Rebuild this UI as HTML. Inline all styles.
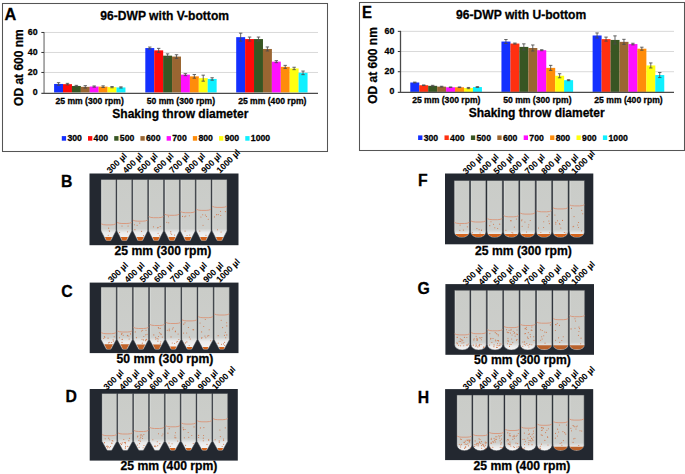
<!DOCTYPE html><html><head><meta charset="utf-8"><style>html,body{margin:0;padding:0;background:#fff;}svg{display:block;}</style></head><body><svg width="685" height="474" viewBox="0 0 685 474" font-family='"Liberation Sans", sans-serif' fill="#000"><style>text{stroke:#000;stroke-width:0.28px;}</style><rect width="685" height="474" fill="#fff"/>
<rect x="2.5" y="3.5" width="325.0" height="148.0" fill="#fff" stroke="#555" stroke-width="1.05"/>
<text transform="translate(100.3,20.2) scale(0.935,1)" font-size="12.95" font-weight="bold">96-DWP with V-bottom</text>
<line x1="44.05" y1="72.46" x2="318" y2="72.46" stroke="#d9d9d9" stroke-width="1"/>
<line x1="44.05" y1="52.46" x2="318" y2="52.46" stroke="#d9d9d9" stroke-width="1"/>
<line x1="44.05" y1="32.46" x2="318" y2="32.46" stroke="#d9d9d9" stroke-width="1"/>
<rect x="54.10" y="83.96" width="8.96" height="8.50" fill="#1430ff"/>
<rect x="63.01" y="84.16" width="8.96" height="8.30" fill="#ff0a0a"/>
<rect x="71.92" y="85.96" width="8.96" height="6.50" fill="#385623"/>
<rect x="80.84" y="86.86" width="8.96" height="5.60" fill="#9a6632"/>
<rect x="89.75" y="86.56" width="8.96" height="5.90" fill="#ff10ff"/>
<rect x="98.66" y="86.66" width="8.96" height="5.80" fill="#ff8c0a"/>
<rect x="107.57" y="87.16" width="8.96" height="5.30" fill="#ffff10"/>
<rect x="116.49" y="87.46" width="8.96" height="5.00" fill="#10f0ff"/>
<path d="M56.86 82.66H60.26M58.56 82.66V85.26M56.86 85.26H60.26" stroke="#4a4a4a" stroke-width="0.85" fill="none"/>
<path d="M65.77 83.36H69.17M67.47 83.36V84.96M65.77 84.96H69.17" stroke="#4a4a4a" stroke-width="0.85" fill="none"/>
<path d="M74.68 85.36H78.08M76.38 85.36V86.56M74.68 86.56H78.08" stroke="#4a4a4a" stroke-width="0.85" fill="none"/>
<path d="M83.59 85.66H86.99M85.29 85.66V88.06M83.59 88.06H86.99" stroke="#4a4a4a" stroke-width="0.85" fill="none"/>
<path d="M92.51 85.96H95.91M94.21 85.96V87.16M92.51 87.16H95.91" stroke="#4a4a4a" stroke-width="0.85" fill="none"/>
<path d="M101.42 85.86H104.82M103.12 85.86V87.46M101.42 87.46H104.82" stroke="#4a4a4a" stroke-width="0.85" fill="none"/>
<path d="M110.33 86.56H113.73M112.03 86.56V87.76M110.33 87.76H113.73" stroke="#4a4a4a" stroke-width="0.85" fill="none"/>
<path d="M119.24 86.86H122.64M120.94 86.86V88.06M119.24 88.06H122.64" stroke="#4a4a4a" stroke-width="0.85" fill="none"/>
<rect x="145.30" y="48.06" width="8.96" height="44.40" fill="#1430ff"/>
<rect x="154.21" y="50.36" width="8.96" height="42.10" fill="#ff0a0a"/>
<rect x="163.12" y="55.66" width="8.96" height="36.80" fill="#385623"/>
<rect x="172.04" y="56.56" width="8.96" height="35.90" fill="#9a6632"/>
<rect x="180.95" y="74.66" width="8.96" height="17.80" fill="#ff10ff"/>
<rect x="189.86" y="76.36" width="8.96" height="16.10" fill="#ff8c0a"/>
<rect x="198.78" y="78.16" width="8.96" height="14.30" fill="#ffff10"/>
<rect x="207.69" y="78.96" width="8.96" height="13.50" fill="#10f0ff"/>
<path d="M148.06 47.06H151.46M149.76 47.06V49.06M148.06 49.06H151.46" stroke="#4a4a4a" stroke-width="0.85" fill="none"/>
<path d="M156.97 48.36H160.37M158.67 48.36V52.36M156.97 52.36H160.37" stroke="#4a4a4a" stroke-width="0.85" fill="none"/>
<path d="M165.88 53.86H169.28M167.58 53.86V57.46M165.88 57.46H169.28" stroke="#4a4a4a" stroke-width="0.85" fill="none"/>
<path d="M174.79 54.76H178.19M176.49 54.76V58.36M174.79 58.36H178.19" stroke="#4a4a4a" stroke-width="0.85" fill="none"/>
<path d="M183.71 73.66H187.11M185.41 73.66V75.66M183.71 75.66H187.11" stroke="#4a4a4a" stroke-width="0.85" fill="none"/>
<path d="M192.62 74.56H196.02M194.32 74.56V78.16M192.62 78.16H196.02" stroke="#4a4a4a" stroke-width="0.85" fill="none"/>
<path d="M201.53 75.16H204.93M203.23 75.16V81.16M201.53 81.16H204.93" stroke="#4a4a4a" stroke-width="0.85" fill="none"/>
<path d="M210.44 77.76H213.84M212.14 77.76V80.16M210.44 80.16H213.84" stroke="#4a4a4a" stroke-width="0.85" fill="none"/>
<rect x="236.20" y="37.16" width="8.96" height="55.30" fill="#1430ff"/>
<rect x="245.11" y="39.06" width="8.96" height="53.40" fill="#ff0a0a"/>
<rect x="254.02" y="39.06" width="8.96" height="53.40" fill="#385623"/>
<rect x="262.94" y="48.96" width="8.96" height="43.50" fill="#9a6632"/>
<rect x="271.85" y="61.66" width="8.96" height="30.80" fill="#ff10ff"/>
<rect x="280.76" y="66.86" width="8.96" height="25.60" fill="#ff8c0a"/>
<rect x="289.67" y="68.46" width="8.96" height="24.00" fill="#ffff10"/>
<rect x="298.59" y="72.86" width="8.96" height="19.60" fill="#10f0ff"/>
<path d="M238.96 33.16H242.36M240.66 33.16V41.16M238.96 41.16H242.36" stroke="#4a4a4a" stroke-width="0.85" fill="none"/>
<path d="M247.87 37.06H251.27M249.57 37.06V41.06M247.87 41.06H251.27" stroke="#4a4a4a" stroke-width="0.85" fill="none"/>
<path d="M256.78 37.06H260.18M258.48 37.06V41.06M256.78 41.06H260.18" stroke="#4a4a4a" stroke-width="0.85" fill="none"/>
<path d="M265.69 46.96H269.09M267.39 46.96V50.96M265.69 50.96H269.09" stroke="#4a4a4a" stroke-width="0.85" fill="none"/>
<path d="M274.61 60.66H278.01M276.31 60.66V62.66M274.61 62.66H278.01" stroke="#4a4a4a" stroke-width="0.85" fill="none"/>
<path d="M283.52 65.36H286.92M285.22 65.36V68.36M283.52 68.36H286.92" stroke="#4a4a4a" stroke-width="0.85" fill="none"/>
<path d="M292.43 67.26H295.83M294.13 67.26V69.66M292.43 69.66H295.83" stroke="#4a4a4a" stroke-width="0.85" fill="none"/>
<path d="M301.34 71.06H304.74M303.04 71.06V74.66M301.34 74.66H304.74" stroke="#4a4a4a" stroke-width="0.85" fill="none"/>
<line x1="44.05" y1="31.96" x2="44.05" y2="93.4" stroke="#808080" stroke-width="1.3"/>
<line x1="41.349999999999994" y1="93.4" x2="318" y2="93.4" stroke="#4a4a4a" stroke-width="1.2"/>
<line x1="41.349999999999994" y1="72.46" x2="44.05" y2="72.46" stroke="#333" stroke-width="1"/>
<line x1="41.349999999999994" y1="52.46" x2="44.05" y2="52.46" stroke="#333" stroke-width="1"/>
<line x1="41.349999999999994" y1="32.46" x2="44.05" y2="32.46" stroke="#333" stroke-width="1"/>
<text x="37.6" y="94.96" font-size="8.8" font-weight="bold" text-anchor="end">0</text>
<text x="37.6" y="74.96" font-size="8.8" font-weight="bold" text-anchor="end">20</text>
<text x="37.6" y="54.96" font-size="8.8" font-weight="bold" text-anchor="end">40</text>
<text x="37.6" y="34.96" font-size="8.8" font-weight="bold" text-anchor="end">60</text>
<text transform="translate(22.5,67.6) rotate(-90)" font-size="12" font-weight="bold" text-anchor="middle">OD at 600 nm</text>
<text x="89.6" y="104.2" font-size="8.6" font-weight="bold" text-anchor="middle">25 mm (300 rpm)</text>
<text x="180.9" y="104.2" font-size="8.6" font-weight="bold" text-anchor="middle">50 mm (300 rpm)</text>
<text x="272.3" y="104.2" font-size="8.6" font-weight="bold" text-anchor="middle">25 mm (400 rpm)</text>
<text x="112.3" y="117.5" font-size="12" font-weight="bold">Shaking throw diameter</text>
<rect x="61.80" y="136.10" width="4.3" height="4.6" fill="#1430ff"/>
<text x="67.40" y="141.30" font-size="8.7" font-weight="bold">300</text>
<rect x="88.01" y="136.10" width="4.3" height="4.6" fill="#ff0a0a"/>
<text x="93.61" y="141.30" font-size="8.7" font-weight="bold">400</text>
<rect x="114.22" y="136.10" width="4.3" height="4.6" fill="#385623"/>
<text x="119.82" y="141.30" font-size="8.7" font-weight="bold">500</text>
<rect x="140.43" y="136.10" width="4.3" height="4.6" fill="#9a6632"/>
<text x="146.03" y="141.30" font-size="8.7" font-weight="bold">600</text>
<rect x="166.64" y="136.10" width="4.3" height="4.6" fill="#ff10ff"/>
<text x="172.24" y="141.30" font-size="8.7" font-weight="bold">700</text>
<rect x="192.85" y="136.10" width="4.3" height="4.6" fill="#ff8c0a"/>
<text x="198.45" y="141.30" font-size="8.7" font-weight="bold">800</text>
<rect x="219.06" y="136.10" width="4.3" height="4.6" fill="#ffff10"/>
<text x="224.66" y="141.30" font-size="8.7" font-weight="bold">900</text>
<rect x="245.27" y="136.10" width="4.3" height="4.6" fill="#10f0ff"/>
<text x="250.87" y="141.30" font-size="8.7" font-weight="bold">1000</text>
<rect x="359.5" y="2.5" width="325.0" height="148.0" fill="#fff" stroke="#555" stroke-width="1.05"/>
<text transform="translate(456.1,18.7) scale(0.935,1)" font-size="12.95" font-weight="bold">96-DWP with U-bottom</text>
<line x1="400.5" y1="71.72" x2="674" y2="71.72" stroke="#d9d9d9" stroke-width="1"/>
<line x1="400.5" y1="51.53" x2="674" y2="51.53" stroke="#d9d9d9" stroke-width="1"/>
<line x1="400.5" y1="31.35" x2="674" y2="31.35" stroke="#d9d9d9" stroke-width="1"/>
<rect x="410.28" y="82.51" width="9.00" height="9.39" fill="#1430ff"/>
<rect x="419.23" y="85.24" width="9.00" height="6.66" fill="#ff3010"/>
<rect x="428.18" y="85.84" width="9.00" height="6.06" fill="#385623"/>
<rect x="437.13" y="86.65" width="9.00" height="5.25" fill="#9a6632"/>
<rect x="446.08" y="87.26" width="9.00" height="4.64" fill="#ff10ff"/>
<rect x="455.03" y="87.26" width="9.00" height="4.64" fill="#ff8c0a"/>
<rect x="463.98" y="88.07" width="9.00" height="3.83" fill="#ffff10"/>
<rect x="472.93" y="87.06" width="9.00" height="4.84" fill="#10f0ff"/>
<path d="M413.06 82.11H416.46M414.76 82.11V82.92M413.06 82.92H416.46" stroke="#4a4a4a" stroke-width="0.85" fill="none"/>
<path d="M422.01 84.94H425.41M423.71 84.94V85.54M422.01 85.54H425.41" stroke="#4a4a4a" stroke-width="0.85" fill="none"/>
<path d="M430.96 85.34H434.36M432.66 85.34V86.35M430.96 86.35H434.36" stroke="#4a4a4a" stroke-width="0.85" fill="none"/>
<path d="M439.91 86.25H443.31M441.61 86.25V87.06M439.91 87.06H443.31" stroke="#4a4a4a" stroke-width="0.85" fill="none"/>
<path d="M448.86 86.96H452.26M450.56 86.96V87.56M448.86 87.56H452.26" stroke="#4a4a4a" stroke-width="0.85" fill="none"/>
<path d="M457.81 86.96H461.21M459.51 86.96V87.56M457.81 87.56H461.21" stroke="#4a4a4a" stroke-width="0.85" fill="none"/>
<path d="M466.76 87.46H470.16M468.46 87.46V88.67M466.76 88.67H470.16" stroke="#4a4a4a" stroke-width="0.85" fill="none"/>
<path d="M475.71 86.65H479.11M477.41 86.65V87.46M475.71 87.46H479.11" stroke="#4a4a4a" stroke-width="0.85" fill="none"/>
<rect x="501.45" y="41.54" width="9.00" height="50.36" fill="#1430ff"/>
<rect x="510.40" y="43.56" width="9.00" height="48.34" fill="#ff3010"/>
<rect x="519.35" y="46.89" width="9.00" height="45.01" fill="#385623"/>
<rect x="528.30" y="48.00" width="9.00" height="43.90" fill="#9a6632"/>
<rect x="537.25" y="50.22" width="9.00" height="41.68" fill="#ff10ff"/>
<rect x="546.20" y="67.88" width="9.00" height="24.02" fill="#ff8c0a"/>
<rect x="555.15" y="75.75" width="9.00" height="16.15" fill="#ffff10"/>
<rect x="564.10" y="80.19" width="9.00" height="11.71" fill="#10f0ff"/>
<path d="M504.23 39.52H507.63M505.93 39.52V43.56M504.23 43.56H507.63" stroke="#4a4a4a" stroke-width="0.85" fill="none"/>
<path d="M513.17 43.06H516.58M514.88 43.06V44.07M513.17 44.07H516.58" stroke="#4a4a4a" stroke-width="0.85" fill="none"/>
<path d="M522.12 43.86H525.53M523.83 43.86V49.92M522.12 49.92H525.53" stroke="#4a4a4a" stroke-width="0.85" fill="none"/>
<path d="M531.08 44.97H534.48M532.78 44.97V51.03M531.08 51.03H534.48" stroke="#4a4a4a" stroke-width="0.85" fill="none"/>
<path d="M540.02 49.72H543.43M541.73 49.72V50.73M540.02 50.73H543.43" stroke="#4a4a4a" stroke-width="0.85" fill="none"/>
<path d="M548.98 65.36H552.38M550.68 65.36V70.40M548.98 70.40H552.38" stroke="#4a4a4a" stroke-width="0.85" fill="none"/>
<path d="M557.93 73.73H561.33M559.63 73.73V77.77M557.93 77.77H561.33" stroke="#4a4a4a" stroke-width="0.85" fill="none"/>
<path d="M566.88 79.69H570.28M568.58 79.69V80.70M566.88 80.70H570.28" stroke="#4a4a4a" stroke-width="0.85" fill="none"/>
<rect x="592.62" y="35.49" width="9.00" height="56.41" fill="#1430ff"/>
<rect x="601.57" y="39.12" width="9.00" height="52.78" fill="#ff3010"/>
<rect x="610.52" y="39.93" width="9.00" height="51.97" fill="#385623"/>
<rect x="619.47" y="41.85" width="9.00" height="50.05" fill="#9a6632"/>
<rect x="628.42" y="44.07" width="9.00" height="47.83" fill="#ff10ff"/>
<rect x="637.37" y="48.71" width="9.00" height="43.19" fill="#ff8c0a"/>
<rect x="646.32" y="65.46" width="9.00" height="26.44" fill="#ffff10"/>
<rect x="655.27" y="75.05" width="9.00" height="16.85" fill="#10f0ff"/>
<path d="M595.39 32.96H598.79M597.09 32.96V38.01M595.39 38.01H598.79" stroke="#4a4a4a" stroke-width="0.85" fill="none"/>
<path d="M604.34 37.10H607.74M606.04 37.10V41.14M604.34 41.14H607.74" stroke="#4a4a4a" stroke-width="0.85" fill="none"/>
<path d="M613.29 35.89H616.69M614.99 35.89V43.96M613.29 43.96H616.69" stroke="#4a4a4a" stroke-width="0.85" fill="none"/>
<path d="M622.24 39.32H625.64M623.94 39.32V44.37M622.24 44.37H625.64" stroke="#4a4a4a" stroke-width="0.85" fill="none"/>
<path d="M631.19 43.26H634.59M632.89 43.26V44.87M631.19 44.87H634.59" stroke="#4a4a4a" stroke-width="0.85" fill="none"/>
<path d="M640.14 47.19H643.54M641.84 47.19V50.22M640.14 50.22H643.54" stroke="#4a4a4a" stroke-width="0.85" fill="none"/>
<path d="M649.09 62.94H652.49M650.79 62.94V67.98M649.09 67.98H652.49" stroke="#4a4a4a" stroke-width="0.85" fill="none"/>
<path d="M658.04 72.52H661.44M659.74 72.52V77.57M658.04 77.57H661.44" stroke="#4a4a4a" stroke-width="0.85" fill="none"/>
<line x1="400.5" y1="30.85" x2="400.5" y2="92.35" stroke="#4a4a4a" stroke-width="1.3"/>
<line x1="397.8" y1="92.35" x2="674" y2="92.35" stroke="#4a4a4a" stroke-width="1.2"/>
<line x1="397.8" y1="71.72" x2="400.5" y2="71.72" stroke="#333" stroke-width="1"/>
<line x1="397.8" y1="51.53" x2="400.5" y2="51.53" stroke="#333" stroke-width="1"/>
<line x1="397.8" y1="31.35" x2="400.5" y2="31.35" stroke="#333" stroke-width="1"/>
<text x="394.3" y="94.40" font-size="8.8" font-weight="bold" text-anchor="end">0</text>
<text x="394.3" y="74.22" font-size="8.8" font-weight="bold" text-anchor="end">20</text>
<text x="394.3" y="54.03" font-size="8.8" font-weight="bold" text-anchor="end">40</text>
<text x="394.3" y="33.85" font-size="8.8" font-weight="bold" text-anchor="end">60</text>
<text transform="translate(376.8,65.5) rotate(-90)" font-size="12" font-weight="bold" text-anchor="middle">OD at 600 nm</text>
<text x="446.3" y="103.0" font-size="8.6" font-weight="bold" text-anchor="middle">25 mm (300 rpm)</text>
<text x="537.4" y="103.0" font-size="8.6" font-weight="bold" text-anchor="middle">50 mm (300 rpm)</text>
<text x="628.5" y="103.0" font-size="8.6" font-weight="bold" text-anchor="middle">25 mm (400 rpm)</text>
<text x="468.7" y="116.8" font-size="12" font-weight="bold">Shaking throw diameter</text>
<rect x="418.10" y="135.40" width="4.3" height="4.6" fill="#1430ff"/>
<text x="423.70" y="140.60" font-size="8.7" font-weight="bold">300</text>
<rect x="444.50" y="135.40" width="4.3" height="4.6" fill="#ff3010"/>
<text x="450.10" y="140.60" font-size="8.7" font-weight="bold">400</text>
<rect x="470.90" y="135.40" width="4.3" height="4.6" fill="#385623"/>
<text x="476.50" y="140.60" font-size="8.7" font-weight="bold">500</text>
<rect x="497.30" y="135.40" width="4.3" height="4.6" fill="#9a6632"/>
<text x="502.90" y="140.60" font-size="8.7" font-weight="bold">600</text>
<rect x="523.70" y="135.40" width="4.3" height="4.6" fill="#ff10ff"/>
<text x="529.30" y="140.60" font-size="8.7" font-weight="bold">700</text>
<rect x="550.10" y="135.40" width="4.3" height="4.6" fill="#ff8c0a"/>
<text x="555.70" y="140.60" font-size="8.7" font-weight="bold">800</text>
<rect x="576.50" y="135.40" width="4.3" height="4.6" fill="#ffff10"/>
<text x="582.10" y="140.60" font-size="8.7" font-weight="bold">900</text>
<rect x="602.90" y="135.40" width="4.3" height="4.6" fill="#10f0ff"/>
<text x="608.50" y="140.60" font-size="8.7" font-weight="bold">1000</text>
<rect x="89.5" y="173.5" width="149.0" height="71.69999999999999" fill="#232830"/>
<text x="163" y="255.3" font-size="12.2" font-weight="bold" text-anchor="middle">25 mm (300 rpm)</text>
<linearGradient id="g0" x1="0" y1="179.5" x2="0" y2="240.8" gradientUnits="userSpaceOnUse"><stop offset="0" stop-color="#caccc8"/><stop offset="0.799" stop-color="#cccecb"/><stop offset="0.865" stop-color="#eaeaea"/><stop offset="1" stop-color="#f8f8f8"/></linearGradient>
<path d="M101.00 179.5H116.00V231L111.40 239.9Q110.90 240.8 109.90 240.8H107.10Q106.10 240.8 105.60 239.9L101.00 231Z" fill="url(#g0)" stroke="#3a3e44" stroke-width="0.5"/>
<line x1="102.00" y1="180.1" x2="102.00" y2="230.00" stroke="#d6d8d6" stroke-width="0.8"/>
<path d="M104.97 236.90H112.03L110.60 240.20000000000002Q110.30 240.60000000000002 109.70 240.60000000000002H107.30Q106.70 240.60000000000002 106.40 240.20000000000002Z" fill="#d2641e"/>
<path d="M101.20 223.80Q103.00 224.90 106.00 224.90H111.00Q114.00 224.90 115.80 223.80" stroke="#d89a80" stroke-width="1.0" fill="none"/>
<circle cx="109.22" cy="230.70" r="0.55" fill="#cf7a50"/>
<circle cx="108.24" cy="235.18" r="0.55" fill="#cf7a50"/>
<circle cx="109.53" cy="231.22" r="0.55" fill="#cf7a50"/>
<circle cx="108.64" cy="228.15" r="0.55" fill="#cf7a50"/>
<text transform="translate(110.20,173.70) rotate(-45)" font-size="8.7" font-weight="bold" style="stroke-width:0.05px">300 µl</text>
<linearGradient id="g1" x1="0" y1="179.5" x2="0" y2="240.8" gradientUnits="userSpaceOnUse"><stop offset="0" stop-color="#caccc8"/><stop offset="0.799" stop-color="#cccecb"/><stop offset="0.865" stop-color="#eaeaea"/><stop offset="1" stop-color="#f8f8f8"/></linearGradient>
<path d="M116.86 179.5H131.86V231L127.26 239.9Q126.76 240.8 125.76 240.8H122.96Q121.96 240.8 121.46 239.9L116.86 231Z" fill="url(#g1)" stroke="#3a3e44" stroke-width="0.5"/>
<line x1="117.86" y1="180.1" x2="117.86" y2="230.00" stroke="#d6d8d6" stroke-width="0.8"/>
<path d="M120.83 236.90H127.89L126.46 240.20000000000002Q126.16 240.60000000000002 125.56 240.60000000000002H123.16Q122.56 240.60000000000002 122.26 240.20000000000002Z" fill="#d2641e"/>
<path d="M117.06 222.40Q118.86 223.50 121.86 223.50H126.86Q129.86 223.50 131.66 222.40" stroke="#d89a80" stroke-width="1.0" fill="none"/>
<circle cx="127.61" cy="231.87" r="0.55" fill="#cf7a50"/>
<circle cx="122.00" cy="226.03" r="0.55" fill="#cf7a50"/>
<circle cx="128.08" cy="225.99" r="0.55" fill="#cf7a50"/>
<circle cx="119.61" cy="232.56" r="0.55" fill="#cf7a50"/>
<text transform="translate(126.30,173.70) rotate(-45)" font-size="8.7" font-weight="bold" style="stroke-width:0.05px">400 µl</text>
<linearGradient id="g2" x1="0" y1="179.5" x2="0" y2="240.8" gradientUnits="userSpaceOnUse"><stop offset="0" stop-color="#caccc8"/><stop offset="0.799" stop-color="#cccecb"/><stop offset="0.865" stop-color="#eaeaea"/><stop offset="1" stop-color="#f8f8f8"/></linearGradient>
<path d="M132.72 179.5H147.72V231L143.12 239.9Q142.62 240.8 141.62 240.8H138.82Q137.82 240.8 137.32 239.9L132.72 231Z" fill="url(#g2)" stroke="#3a3e44" stroke-width="0.5"/>
<line x1="133.72" y1="180.1" x2="133.72" y2="230.00" stroke="#d6d8d6" stroke-width="0.8"/>
<path d="M136.69 236.90H143.75L142.32 240.20000000000002Q142.02 240.60000000000002 141.42 240.60000000000002H139.02Q138.42 240.60000000000002 138.12 240.20000000000002Z" fill="#d2641e"/>
<path d="M132.92 220.10Q134.72 221.20 137.72 221.20H142.72Q145.72 221.20 147.52 220.10" stroke="#d89a80" stroke-width="1.0" fill="none"/>
<circle cx="143.54" cy="235.66" r="0.55" fill="#cf7a50"/>
<circle cx="141.57" cy="231.33" r="0.55" fill="#cf7a50"/>
<circle cx="134.40" cy="224.78" r="0.55" fill="#cf7a50"/>
<circle cx="134.93" cy="229.67" r="0.55" fill="#cf7a50"/>
<circle cx="137.12" cy="225.21" r="0.55" fill="#cf7a50"/>
<circle cx="139.79" cy="223.10" r="0.55" fill="#cf7a50"/>
<text transform="translate(141.10,173.70) rotate(-45)" font-size="8.7" font-weight="bold" style="stroke-width:0.05px">500 µl</text>
<linearGradient id="g3" x1="0" y1="179.5" x2="0" y2="240.8" gradientUnits="userSpaceOnUse"><stop offset="0" stop-color="#caccc8"/><stop offset="0.799" stop-color="#cccecb"/><stop offset="0.865" stop-color="#eaeaea"/><stop offset="1" stop-color="#f8f8f8"/></linearGradient>
<path d="M148.58 179.5H163.58V231L158.98 239.9Q158.48 240.8 157.48 240.8H154.68Q153.68 240.8 153.18 239.9L148.58 231Z" fill="url(#g3)" stroke="#3a3e44" stroke-width="0.5"/>
<line x1="149.58" y1="180.1" x2="149.58" y2="230.00" stroke="#d6d8d6" stroke-width="0.8"/>
<path d="M152.55 236.90H159.61L158.18 240.20000000000002Q157.88 240.60000000000002 157.28 240.60000000000002H154.88Q154.28 240.60000000000002 153.98 240.20000000000002Z" fill="#d2641e"/>
<path d="M148.78 216.60Q150.58 217.70 153.58 217.70H158.58Q161.58 217.70 163.38 216.60" stroke="#d89a80" stroke-width="1.0" fill="none"/>
<circle cx="160.19" cy="226.56" r="0.55" fill="#cf7a50"/>
<circle cx="157.76" cy="227.87" r="0.55" fill="#cf7a50"/>
<circle cx="158.03" cy="227.55" r="0.55" fill="#cf7a50"/>
<circle cx="153.42" cy="226.84" r="0.55" fill="#cf7a50"/>
<circle cx="159.52" cy="235.86" r="0.55" fill="#cf7a50"/>
<circle cx="158.09" cy="233.23" r="0.55" fill="#cf7a50"/>
<text transform="translate(156.90,173.70) rotate(-45)" font-size="8.7" font-weight="bold" style="stroke-width:0.05px">600 µl</text>
<linearGradient id="g4" x1="0" y1="179.5" x2="0" y2="240.8" gradientUnits="userSpaceOnUse"><stop offset="0" stop-color="#caccc8"/><stop offset="0.799" stop-color="#cccecb"/><stop offset="0.865" stop-color="#eaeaea"/><stop offset="1" stop-color="#f8f8f8"/></linearGradient>
<path d="M164.44 179.5H179.44V231L174.84 239.9Q174.34 240.8 173.34 240.8H170.54Q169.54 240.8 169.04 239.9L164.44 231Z" fill="url(#g4)" stroke="#3a3e44" stroke-width="0.5"/>
<line x1="165.44" y1="180.1" x2="165.44" y2="230.00" stroke="#d6d8d6" stroke-width="0.8"/>
<path d="M168.41 236.90H175.47L174.04 240.20000000000002Q173.74 240.60000000000002 173.14 240.60000000000002H170.74Q170.14 240.60000000000002 169.84 240.20000000000002Z" fill="#d2641e"/>
<path d="M164.64 214.20Q166.44 215.30 169.44 215.30H174.44Q177.44 215.30 179.24 214.20" stroke="#d89a80" stroke-width="1.0" fill="none"/>
<circle cx="168.70" cy="222.82" r="0.55" fill="#cf7a50"/>
<circle cx="166.78" cy="222.32" r="0.55" fill="#cf7a50"/>
<circle cx="170.79" cy="231.44" r="0.55" fill="#cf7a50"/>
<circle cx="170.81" cy="232.97" r="0.55" fill="#cf7a50"/>
<circle cx="174.63" cy="235.10" r="0.55" fill="#cf7a50"/>
<circle cx="168.46" cy="216.81" r="0.55" fill="#cf7a50"/>
<circle cx="171.68" cy="234.19" r="0.55" fill="#cf7a50"/>
<text transform="translate(172.80,173.70) rotate(-45)" font-size="8.7" font-weight="bold" style="stroke-width:0.05px">700 µl</text>
<linearGradient id="g5" x1="0" y1="179.5" x2="0" y2="240.8" gradientUnits="userSpaceOnUse"><stop offset="0" stop-color="#caccc8"/><stop offset="0.799" stop-color="#cccecb"/><stop offset="0.865" stop-color="#eaeaea"/><stop offset="1" stop-color="#f8f8f8"/></linearGradient>
<path d="M180.30 179.5H195.30V231L190.70 239.9Q190.20 240.8 189.20 240.8H186.40Q185.40 240.8 184.90 239.9L180.30 231Z" fill="url(#g5)" stroke="#3a3e44" stroke-width="0.5"/>
<line x1="181.30" y1="180.1" x2="181.30" y2="230.00" stroke="#d6d8d6" stroke-width="0.8"/>
<path d="M184.27 236.90H191.33L189.90 240.20000000000002Q189.60 240.60000000000002 189.00 240.60000000000002H186.60Q186.00 240.60000000000002 185.70 240.20000000000002Z" fill="#d2641e"/>
<path d="M180.50 211.60Q182.30 212.70 185.30 212.70H190.30Q193.30 212.70 195.10 211.60" stroke="#d89a80" stroke-width="1.0" fill="none"/>
<circle cx="187.05" cy="235.47" r="0.55" fill="#cf7a50"/>
<circle cx="189.35" cy="215.78" r="0.55" fill="#cf7a50"/>
<circle cx="185.06" cy="231.09" r="0.55" fill="#cf7a50"/>
<circle cx="185.79" cy="216.09" r="0.55" fill="#cf7a50"/>
<circle cx="189.79" cy="235.12" r="0.55" fill="#cf7a50"/>
<circle cx="184.76" cy="216.76" r="0.55" fill="#cf7a50"/>
<circle cx="182.52" cy="216.39" r="0.55" fill="#cf7a50"/>
<text transform="translate(188.60,173.70) rotate(-45)" font-size="8.7" font-weight="bold" style="stroke-width:0.05px">800 µl</text>
<linearGradient id="g6" x1="0" y1="179.5" x2="0" y2="240.8" gradientUnits="userSpaceOnUse"><stop offset="0" stop-color="#caccc8"/><stop offset="0.799" stop-color="#cccecb"/><stop offset="0.865" stop-color="#eaeaea"/><stop offset="1" stop-color="#f8f8f8"/></linearGradient>
<path d="M196.16 179.5H211.16V231L206.56 239.9Q206.06 240.8 205.06 240.8H202.26Q201.26 240.8 200.76 239.9L196.16 231Z" fill="url(#g6)" stroke="#3a3e44" stroke-width="0.5"/>
<line x1="197.16" y1="180.1" x2="197.16" y2="230.00" stroke="#d6d8d6" stroke-width="0.8"/>
<path d="M200.13 236.90H207.19L205.76 240.20000000000002Q205.46 240.60000000000002 204.86 240.60000000000002H202.46Q201.86 240.60000000000002 201.56 240.20000000000002Z" fill="#d2641e"/>
<path d="M196.36 209.30Q198.16 210.40 201.16 210.40H206.16Q209.16 210.40 210.96 209.30" stroke="#d89a80" stroke-width="1.0" fill="none"/>
<circle cx="199.80" cy="231.03" r="0.55" fill="#cf7a50"/>
<circle cx="203.03" cy="225.32" r="0.55" fill="#cf7a50"/>
<circle cx="206.44" cy="216.48" r="0.55" fill="#cf7a50"/>
<circle cx="205.38" cy="215.04" r="0.55" fill="#cf7a50"/>
<circle cx="202.71" cy="214.70" r="0.55" fill="#cf7a50"/>
<circle cx="200.90" cy="217.01" r="0.55" fill="#cf7a50"/>
<circle cx="205.97" cy="235.20" r="0.55" fill="#cf7a50"/>
<circle cx="208.28" cy="219.20" r="0.55" fill="#cf7a50"/>
<text transform="translate(204.80,173.70) rotate(-45)" font-size="8.7" font-weight="bold" style="stroke-width:0.05px">900 µl</text>
<linearGradient id="g7" x1="0" y1="179.5" x2="0" y2="240.8" gradientUnits="userSpaceOnUse"><stop offset="0" stop-color="#caccc8"/><stop offset="0.799" stop-color="#cccecb"/><stop offset="0.865" stop-color="#eaeaea"/><stop offset="1" stop-color="#f8f8f8"/></linearGradient>
<path d="M212.02 179.5H227.02V231L222.42 239.9Q221.92 240.8 220.92 240.8H218.12Q217.12 240.8 216.62 239.9L212.02 231Z" fill="url(#g7)" stroke="#3a3e44" stroke-width="0.5"/>
<line x1="213.02" y1="180.1" x2="213.02" y2="230.00" stroke="#d6d8d6" stroke-width="0.8"/>
<path d="M215.99 236.90H223.05L221.62 240.20000000000002Q221.32 240.60000000000002 220.72 240.60000000000002H218.32Q217.72 240.60000000000002 217.42 240.20000000000002Z" fill="#d2641e"/>
<path d="M212.22 206.30Q214.02 207.40 217.02 207.40H222.02Q225.02 207.40 226.82 206.30" stroke="#d89a80" stroke-width="1.0" fill="none"/>
<circle cx="218.25" cy="214.59" r="0.55" fill="#cf7a50"/>
<circle cx="221.08" cy="231.97" r="0.55" fill="#cf7a50"/>
<circle cx="225.39" cy="211.61" r="0.55" fill="#cf7a50"/>
<circle cx="216.62" cy="214.66" r="0.55" fill="#cf7a50"/>
<circle cx="217.47" cy="229.76" r="0.55" fill="#cf7a50"/>
<circle cx="214.40" cy="216.90" r="0.55" fill="#cf7a50"/>
<circle cx="220.51" cy="211.33" r="0.55" fill="#cf7a50"/>
<circle cx="220.74" cy="215.46" r="0.55" fill="#cf7a50"/>
<text transform="translate(220.10,173.70) rotate(-45)" font-size="8.7" font-weight="bold" style="stroke-width:0.05px">1000 µl</text>
<rect x="89.7" y="282.6" width="148.8" height="70.5" fill="#232830"/>
<text x="165" y="362.5" font-size="12.2" font-weight="bold" text-anchor="middle">50 mm (300 rpm)</text>
<linearGradient id="g8" x1="0" y1="287.1" x2="0" y2="349.4" gradientUnits="userSpaceOnUse"><stop offset="0" stop-color="#caccc8"/><stop offset="0.804" stop-color="#cccecb"/><stop offset="0.868" stop-color="#eaeaea"/><stop offset="1" stop-color="#f8f8f8"/></linearGradient>
<path d="M101.00 287.1H116.30V339.7L111.55 348.5Q111.05 349.4 110.05 349.4H107.25Q106.25 349.4 105.75 348.5L101.00 339.7Z" fill="url(#g8)" stroke="#3a3e44" stroke-width="0.5"/>
<line x1="102.00" y1="287.70000000000005" x2="102.00" y2="338.70" stroke="#d6d8d6" stroke-width="0.8"/>
<path d="M104.34 344.20H112.96L110.75 348.79999999999995Q110.45 349.2 109.85 349.2H107.45Q106.85 349.2 106.55 348.79999999999995Z" fill="#c2642a"/>
<path d="M101.20 332.60Q103.00 333.70 106.00 333.70H111.30Q114.30 333.70 116.10 332.60" stroke="#d89a80" stroke-width="1.0" fill="none"/>
<circle cx="108.07" cy="338.17" r="0.55" fill="#cf7a50"/>
<circle cx="108.51" cy="342.87" r="0.55" fill="#cf7a50"/>
<circle cx="113.12" cy="339.80" r="0.55" fill="#cf7a50"/>
<circle cx="104.40" cy="336.66" r="0.55" fill="#cf7a50"/>
<circle cx="111.61" cy="342.47" r="0.55" fill="#cf7a50"/>
<circle cx="104.83" cy="337.20" r="0.55" fill="#cf7a50"/>
<circle cx="113.39" cy="341.12" r="0.55" fill="#cf7a50"/>
<circle cx="114.19" cy="336.77" r="0.55" fill="#cf7a50"/>
<circle cx="109.64" cy="342.26" r="0.55" fill="#cf7a50"/>
<circle cx="103.78" cy="338.57" r="0.55" fill="#cf7a50"/>
<text transform="translate(111.40,283.00) rotate(-45)" font-size="8.7" font-weight="bold" style="stroke-width:0.05px">300 µl</text>
<linearGradient id="g9" x1="0" y1="287.1" x2="0" y2="349.4" gradientUnits="userSpaceOnUse"><stop offset="0" stop-color="#caccc8"/><stop offset="0.804" stop-color="#cccecb"/><stop offset="0.868" stop-color="#eaeaea"/><stop offset="1" stop-color="#f8f8f8"/></linearGradient>
<path d="M117.16 287.1H132.46V339.7L127.71 348.5Q127.21 349.4 126.21 349.4H123.41Q122.41 349.4 121.91 348.5L117.16 339.7Z" fill="url(#g9)" stroke="#3a3e44" stroke-width="0.5"/>
<line x1="118.16" y1="287.70000000000005" x2="118.16" y2="338.70" stroke="#d6d8d6" stroke-width="0.8"/>
<path d="M120.50 344.20H129.12L126.91 348.79999999999995Q126.61 349.2 126.01 349.2H123.61Q123.01 349.2 122.71 348.79999999999995Z" fill="#c2642a"/>
<path d="M117.36 330.90Q119.16 332.00 122.16 332.00H127.46Q130.46 332.00 132.26 330.90" stroke="#d89a80" stroke-width="1.0" fill="none"/>
<circle cx="130.50" cy="333.88" r="0.55" fill="#cf7a50"/>
<circle cx="127.33" cy="335.81" r="0.55" fill="#cf7a50"/>
<circle cx="128.79" cy="335.99" r="0.55" fill="#cf7a50"/>
<circle cx="122.27" cy="339.29" r="0.55" fill="#cf7a50"/>
<circle cx="127.52" cy="335.20" r="0.55" fill="#cf7a50"/>
<circle cx="121.47" cy="334.17" r="0.55" fill="#cf7a50"/>
<circle cx="129.14" cy="338.93" r="0.55" fill="#cf7a50"/>
<circle cx="122.11" cy="339.46" r="0.55" fill="#cf7a50"/>
<circle cx="122.03" cy="342.40" r="0.55" fill="#cf7a50"/>
<circle cx="121.97" cy="333.66" r="0.55" fill="#cf7a50"/>
<circle cx="119.40" cy="337.82" r="0.55" fill="#cf7a50"/>
<circle cx="123.20" cy="335.21" r="0.55" fill="#cf7a50"/>
<text transform="translate(127.90,283.00) rotate(-45)" font-size="8.7" font-weight="bold" style="stroke-width:0.05px">400 µl</text>
<linearGradient id="g10" x1="0" y1="287.1" x2="0" y2="349.4" gradientUnits="userSpaceOnUse"><stop offset="0" stop-color="#caccc8"/><stop offset="0.804" stop-color="#cccecb"/><stop offset="0.868" stop-color="#eaeaea"/><stop offset="1" stop-color="#f8f8f8"/></linearGradient>
<path d="M133.32 287.1H148.62V339.7L143.87 348.5Q143.37 349.4 142.37 349.4H139.57Q138.57 349.4 138.07 348.5L133.32 339.7Z" fill="url(#g10)" stroke="#3a3e44" stroke-width="0.5"/>
<line x1="134.32" y1="287.70000000000005" x2="134.32" y2="338.70" stroke="#d6d8d6" stroke-width="0.8"/>
<path d="M136.76 344.40H145.18L143.07 348.79999999999995Q142.77 349.2 142.17 349.2H139.77Q139.17 349.2 138.87 348.79999999999995Z" fill="#c2642a"/>
<path d="M133.52 327.40Q135.32 328.50 138.32 328.50H143.62Q146.62 328.50 148.42 327.40" stroke="#d89a80" stroke-width="1.0" fill="none"/>
<circle cx="136.44" cy="337.67" r="0.55" fill="#cf7a50"/>
<circle cx="145.78" cy="334.85" r="0.55" fill="#cf7a50"/>
<circle cx="142.32" cy="343.14" r="0.55" fill="#cf7a50"/>
<circle cx="142.01" cy="339.26" r="0.55" fill="#cf7a50"/>
<circle cx="135.25" cy="331.88" r="0.55" fill="#cf7a50"/>
<circle cx="146.02" cy="330.24" r="0.55" fill="#cf7a50"/>
<circle cx="146.66" cy="339.39" r="0.55" fill="#cf7a50"/>
<circle cx="142.65" cy="330.28" r="0.55" fill="#cf7a50"/>
<circle cx="143.81" cy="336.46" r="0.55" fill="#cf7a50"/>
<circle cx="147.11" cy="334.27" r="0.55" fill="#cf7a50"/>
<circle cx="141.54" cy="331.01" r="0.55" fill="#cf7a50"/>
<circle cx="145.82" cy="339.88" r="0.55" fill="#cf7a50"/>
<circle cx="143.44" cy="339.88" r="0.55" fill="#cf7a50"/>
<circle cx="145.66" cy="340.63" r="0.55" fill="#cf7a50"/>
<text transform="translate(143.20,283.00) rotate(-45)" font-size="8.7" font-weight="bold" style="stroke-width:0.05px">500 µl</text>
<linearGradient id="g11" x1="0" y1="287.1" x2="0" y2="349.4" gradientUnits="userSpaceOnUse"><stop offset="0" stop-color="#caccc8"/><stop offset="0.804" stop-color="#cccecb"/><stop offset="0.868" stop-color="#eaeaea"/><stop offset="1" stop-color="#f8f8f8"/></linearGradient>
<path d="M149.48 287.1H164.78V339.7L160.03 348.5Q159.53 349.4 158.53 349.4H155.73Q154.73 349.4 154.23 348.5L149.48 339.7Z" fill="url(#g11)" stroke="#3a3e44" stroke-width="0.5"/>
<line x1="150.48" y1="287.70000000000005" x2="150.48" y2="338.70" stroke="#d6d8d6" stroke-width="0.8"/>
<path d="M152.92 344.40H161.34L159.23 348.79999999999995Q158.93 349.2 158.33 349.2H155.93Q155.33 349.2 155.03 348.79999999999995Z" fill="#c2642a"/>
<path d="M149.68 324.40Q151.48 325.50 154.48 325.50H159.78Q162.78 325.50 164.58 324.40" stroke="#d89a80" stroke-width="1.0" fill="none"/>
<circle cx="159.41" cy="332.77" r="0.55" fill="#cf7a50"/>
<circle cx="160.86" cy="341.77" r="0.55" fill="#cf7a50"/>
<circle cx="160.70" cy="333.84" r="0.55" fill="#cf7a50"/>
<circle cx="157.91" cy="341.16" r="0.55" fill="#cf7a50"/>
<circle cx="155.68" cy="337.25" r="0.55" fill="#cf7a50"/>
<circle cx="158.47" cy="336.56" r="0.55" fill="#cf7a50"/>
<circle cx="158.84" cy="328.32" r="0.55" fill="#cf7a50"/>
<circle cx="160.33" cy="343.29" r="0.55" fill="#cf7a50"/>
<circle cx="155.76" cy="338.94" r="0.55" fill="#cf7a50"/>
<circle cx="158.13" cy="339.05" r="0.55" fill="#cf7a50"/>
<circle cx="161.29" cy="334.22" r="0.55" fill="#cf7a50"/>
<circle cx="160.21" cy="328.37" r="0.55" fill="#cf7a50"/>
<circle cx="158.38" cy="327.49" r="0.55" fill="#cf7a50"/>
<circle cx="153.81" cy="334.89" r="0.55" fill="#cf7a50"/>
<circle cx="157.10" cy="338.45" r="0.55" fill="#cf7a50"/>
<circle cx="162.30" cy="337.08" r="0.55" fill="#cf7a50"/>
<text transform="translate(157.40,283.00) rotate(-45)" font-size="8.7" font-weight="bold" style="stroke-width:0.05px">600 µl</text>
<linearGradient id="g12" x1="0" y1="287.1" x2="0" y2="349.4" gradientUnits="userSpaceOnUse"><stop offset="0" stop-color="#caccc8"/><stop offset="0.804" stop-color="#cccecb"/><stop offset="0.868" stop-color="#eaeaea"/><stop offset="1" stop-color="#f8f8f8"/></linearGradient>
<path d="M165.64 287.1H180.94V339.7L176.19 348.5Q175.69 349.4 174.69 349.4H171.89Q170.89 349.4 170.39 348.5L165.64 339.7Z" fill="url(#g12)" stroke="#3a3e44" stroke-width="0.5"/>
<line x1="166.64" y1="287.70000000000005" x2="166.64" y2="338.70" stroke="#d6d8d6" stroke-width="0.8"/>
<path d="M170.17 346.40H176.41L175.39 348.79999999999995Q175.09 349.2 174.49 349.2H172.09Q171.49 349.2 171.19 348.79999999999995Z" fill="#d2641e"/>
<path d="M165.84 322.40Q167.64 323.50 170.64 323.50H175.94Q178.94 323.50 180.74 322.40" stroke="#d89a80" stroke-width="1.0" fill="none"/>
<circle cx="167.28" cy="330.22" r="0.55" fill="#cf7a50"/>
<circle cx="175.48" cy="331.14" r="0.55" fill="#cf7a50"/>
<circle cx="169.23" cy="329.13" r="0.55" fill="#cf7a50"/>
<circle cx="174.60" cy="343.48" r="0.55" fill="#cf7a50"/>
<circle cx="178.11" cy="334.02" r="0.55" fill="#cf7a50"/>
<circle cx="175.33" cy="331.67" r="0.55" fill="#cf7a50"/>
<circle cx="172.44" cy="329.05" r="0.55" fill="#cf7a50"/>
<circle cx="177.60" cy="341.44" r="0.55" fill="#cf7a50"/>
<circle cx="172.28" cy="342.96" r="0.55" fill="#cf7a50"/>
<circle cx="171.03" cy="336.90" r="0.55" fill="#cf7a50"/>
<circle cx="173.25" cy="327.78" r="0.55" fill="#cf7a50"/>
<circle cx="176.68" cy="342.08" r="0.55" fill="#cf7a50"/>
<circle cx="178.83" cy="339.51" r="0.55" fill="#cf7a50"/>
<circle cx="169.22" cy="330.65" r="0.55" fill="#cf7a50"/>
<text transform="translate(173.80,283.00) rotate(-45)" font-size="8.7" font-weight="bold" style="stroke-width:0.05px">700 µl</text>
<linearGradient id="g13" x1="0" y1="287.1" x2="0" y2="349.4" gradientUnits="userSpaceOnUse"><stop offset="0" stop-color="#caccc8"/><stop offset="0.804" stop-color="#cccecb"/><stop offset="0.868" stop-color="#eaeaea"/><stop offset="1" stop-color="#f8f8f8"/></linearGradient>
<path d="M181.80 287.1H197.10V339.7L192.35 348.5Q191.85 349.4 190.85 349.4H188.05Q187.05 349.4 186.55 348.5L181.80 339.7Z" fill="url(#g13)" stroke="#3a3e44" stroke-width="0.5"/>
<line x1="182.80" y1="287.70000000000005" x2="182.80" y2="338.70" stroke="#d6d8d6" stroke-width="0.8"/>
<path d="M186.60 346.90H192.30L191.55 348.79999999999995Q191.25 349.2 190.65 349.2H188.25Q187.65 349.2 187.35 348.79999999999995Z" fill="#d2641e"/>
<path d="M182.00 319.80Q183.80 320.90 186.80 320.90H192.10Q195.10 320.90 196.90 319.80" stroke="#d89a80" stroke-width="1.0" fill="none"/>
<circle cx="186.68" cy="332.99" r="0.55" fill="#cf7a50"/>
<circle cx="188.39" cy="327.43" r="0.55" fill="#cf7a50"/>
<circle cx="189.37" cy="337.10" r="0.55" fill="#cf7a50"/>
<circle cx="193.62" cy="329.81" r="0.55" fill="#cf7a50"/>
<circle cx="189.16" cy="345.48" r="0.55" fill="#cf7a50"/>
<circle cx="183.69" cy="324.15" r="0.55" fill="#cf7a50"/>
<circle cx="185.40" cy="342.91" r="0.55" fill="#cf7a50"/>
<circle cx="190.32" cy="339.05" r="0.55" fill="#cf7a50"/>
<circle cx="193.04" cy="329.66" r="0.55" fill="#cf7a50"/>
<circle cx="184.97" cy="322.85" r="0.55" fill="#cf7a50"/>
<circle cx="183.60" cy="333.09" r="0.55" fill="#cf7a50"/>
<circle cx="186.84" cy="341.90" r="0.55" fill="#cf7a50"/>
<text transform="translate(190.30,283.00) rotate(-45)" font-size="8.7" font-weight="bold" style="stroke-width:0.05px">800 µl</text>
<linearGradient id="g14" x1="0" y1="287.1" x2="0" y2="349.4" gradientUnits="userSpaceOnUse"><stop offset="0" stop-color="#caccc8"/><stop offset="0.804" stop-color="#cccecb"/><stop offset="0.868" stop-color="#eaeaea"/><stop offset="1" stop-color="#f8f8f8"/></linearGradient>
<path d="M197.96 287.1H213.26V339.7L208.51 348.5Q208.01 349.4 207.01 349.4H204.21Q203.21 349.4 202.71 348.5L197.96 339.7Z" fill="url(#g14)" stroke="#3a3e44" stroke-width="0.5"/>
<line x1="198.96" y1="287.70000000000005" x2="198.96" y2="338.70" stroke="#d6d8d6" stroke-width="0.8"/>
<path d="M202.76 346.90H208.46L207.71 348.79999999999995Q207.41 349.2 206.81 349.2H204.41Q203.81 349.2 203.51 348.79999999999995Z" fill="#d2641e"/>
<path d="M198.16 316.60Q199.96 317.70 202.96 317.70H208.26Q211.26 317.70 213.06 316.60" stroke="#d89a80" stroke-width="1.0" fill="none"/>
<circle cx="200.04" cy="322.96" r="0.55" fill="#cf7a50"/>
<circle cx="204.95" cy="336.00" r="0.55" fill="#cf7a50"/>
<circle cx="207.52" cy="336.02" r="0.55" fill="#cf7a50"/>
<circle cx="210.72" cy="340.76" r="0.55" fill="#cf7a50"/>
<circle cx="201.91" cy="337.48" r="0.55" fill="#cf7a50"/>
<circle cx="201.66" cy="331.89" r="0.55" fill="#cf7a50"/>
<circle cx="205.27" cy="319.49" r="0.55" fill="#cf7a50"/>
<circle cx="201.66" cy="338.27" r="0.55" fill="#cf7a50"/>
<circle cx="203.71" cy="326.47" r="0.55" fill="#cf7a50"/>
<circle cx="205.86" cy="337.82" r="0.55" fill="#cf7a50"/>
<circle cx="208.76" cy="335.61" r="0.55" fill="#cf7a50"/>
<circle cx="209.20" cy="329.71" r="0.55" fill="#cf7a50"/>
<text transform="translate(206.70,283.00) rotate(-45)" font-size="8.7" font-weight="bold" style="stroke-width:0.05px">900 µl</text>
<linearGradient id="g15" x1="0" y1="287.1" x2="0" y2="349.4" gradientUnits="userSpaceOnUse"><stop offset="0" stop-color="#caccc8"/><stop offset="0.804" stop-color="#cccecb"/><stop offset="0.868" stop-color="#eaeaea"/><stop offset="1" stop-color="#f8f8f8"/></linearGradient>
<path d="M214.12 287.1H229.42V339.7L224.67 348.5Q224.17 349.4 223.17 349.4H220.37Q219.37 349.4 218.87 348.5L214.12 339.7Z" fill="url(#g15)" stroke="#3a3e44" stroke-width="0.5"/>
<line x1="215.12" y1="287.70000000000005" x2="215.12" y2="338.70" stroke="#d6d8d6" stroke-width="0.8"/>
<path d="M218.92 346.90H224.62L223.87 348.79999999999995Q223.57 349.2 222.97 349.2H220.57Q219.97 349.2 219.67 348.79999999999995Z" fill="#d2641e"/>
<path d="M214.32 313.90Q216.12 315.00 219.12 315.00H224.42Q227.42 315.00 229.22 313.90" stroke="#d89a80" stroke-width="1.0" fill="none"/>
<circle cx="218.23" cy="343.14" r="0.55" fill="#cf7a50"/>
<circle cx="223.49" cy="343.92" r="0.55" fill="#cf7a50"/>
<circle cx="221.20" cy="320.32" r="0.55" fill="#cf7a50"/>
<circle cx="226.81" cy="334.89" r="0.55" fill="#cf7a50"/>
<circle cx="222.62" cy="327.58" r="0.55" fill="#cf7a50"/>
<circle cx="224.57" cy="342.35" r="0.55" fill="#cf7a50"/>
<circle cx="221.50" cy="344.26" r="0.55" fill="#cf7a50"/>
<circle cx="218.14" cy="335.65" r="0.55" fill="#cf7a50"/>
<circle cx="225.69" cy="337.72" r="0.55" fill="#cf7a50"/>
<circle cx="224.45" cy="335.36" r="0.55" fill="#cf7a50"/>
<circle cx="226.69" cy="322.77" r="0.55" fill="#cf7a50"/>
<circle cx="224.73" cy="345.33" r="0.55" fill="#cf7a50"/>
<circle cx="225.35" cy="332.29" r="0.55" fill="#cf7a50"/>
<circle cx="226.81" cy="325.92" r="0.55" fill="#cf7a50"/>
<text transform="translate(219.80,283.00) rotate(-45)" font-size="8.7" font-weight="bold" style="stroke-width:0.05px">1000 µl</text>
<rect x="89.7" y="389" width="148.10000000000002" height="71.60000000000002" fill="#232830"/>
<text x="169" y="469.5" font-size="12.2" font-weight="bold" text-anchor="middle">25 mm (400 rpm)</text>
<linearGradient id="g16" x1="0" y1="393.5" x2="0" y2="450.4" gradientUnits="userSpaceOnUse"><stop offset="0" stop-color="#caccc8"/><stop offset="0.794" stop-color="#cccecb"/><stop offset="0.865" stop-color="#eaeaea"/><stop offset="1" stop-color="#f8f8f8"/></linearGradient>
<path d="M101.90 393.5H116.90V441.2L112.30 449.5Q111.80 450.4 110.80 450.4H108.00Q107.00 450.4 106.50 449.5L101.90 441.2Z" fill="url(#g16)" stroke="#3a3e44" stroke-width="0.5"/>
<line x1="102.90" y1="394.1" x2="102.90" y2="440.20" stroke="#d6d8d6" stroke-width="0.8"/>
<path d="M102.10 434.60Q103.90 435.70 106.90 435.70H111.90Q114.90 435.70 116.70 434.60" stroke="#d89a80" stroke-width="1.0" fill="none"/>
<circle cx="108.52" cy="446.78" r="0.55" fill="#cf7a50"/>
<circle cx="108.69" cy="438.13" r="0.55" fill="#cf7a50"/>
<circle cx="111.98" cy="443.36" r="0.55" fill="#cf7a50"/>
<circle cx="104.50" cy="442.66" r="0.55" fill="#cf7a50"/>
<circle cx="106.62" cy="446.26" r="0.55" fill="#cf7a50"/>
<circle cx="107.27" cy="446.16" r="0.55" fill="#cf7a50"/>
<circle cx="112.85" cy="440.95" r="0.55" fill="#cf7a50"/>
<circle cx="105.18" cy="438.77" r="0.55" fill="#cf7a50"/>
<circle cx="111.64" cy="442.99" r="0.55" fill="#cf7a50"/>
<circle cx="110.54" cy="446.61" r="0.55" fill="#cf7a50"/>
<circle cx="109.37" cy="447.79" r="0.55" fill="#cf7a50"/>
<circle cx="107.48" cy="447.83" r="0.55" fill="#cf7a50"/>
<circle cx="109.72" cy="439.68" r="0.55" fill="#cf7a50"/>
<circle cx="112.15" cy="440.45" r="0.55" fill="#cf7a50"/>
<text transform="translate(107.10,390.40) rotate(-45)" font-size="8.7" font-weight="bold" style="stroke-width:0.05px">300 µl</text>
<linearGradient id="g17" x1="0" y1="393.5" x2="0" y2="450.4" gradientUnits="userSpaceOnUse"><stop offset="0" stop-color="#caccc8"/><stop offset="0.794" stop-color="#cccecb"/><stop offset="0.865" stop-color="#eaeaea"/><stop offset="1" stop-color="#f8f8f8"/></linearGradient>
<path d="M117.74 393.5H132.74V441.2L128.14 449.5Q127.64 450.4 126.64 450.4H123.84Q122.84 450.4 122.34 449.5L117.74 441.2Z" fill="url(#g17)" stroke="#3a3e44" stroke-width="0.5"/>
<line x1="118.74" y1="394.1" x2="118.74" y2="440.20" stroke="#d6d8d6" stroke-width="0.8"/>
<path d="M117.94 432.90Q119.74 434.00 122.74 434.00H127.74Q130.74 434.00 132.54 432.90" stroke="#d89a80" stroke-width="1.0" fill="none"/>
<circle cx="125.45" cy="443.74" r="0.55" fill="#cf7a50"/>
<circle cx="125.62" cy="446.38" r="0.55" fill="#cf7a50"/>
<circle cx="123.81" cy="439.52" r="0.55" fill="#cf7a50"/>
<circle cx="127.74" cy="446.40" r="0.55" fill="#cf7a50"/>
<circle cx="129.45" cy="438.19" r="0.55" fill="#cf7a50"/>
<circle cx="125.35" cy="447.99" r="0.55" fill="#cf7a50"/>
<circle cx="122.21" cy="442.89" r="0.55" fill="#cf7a50"/>
<circle cx="125.27" cy="442.41" r="0.55" fill="#cf7a50"/>
<circle cx="120.68" cy="443.31" r="0.55" fill="#cf7a50"/>
<circle cx="125.31" cy="448.01" r="0.55" fill="#cf7a50"/>
<circle cx="128.85" cy="440.67" r="0.55" fill="#cf7a50"/>
<circle cx="125.15" cy="442.76" r="0.55" fill="#cf7a50"/>
<circle cx="121.58" cy="444.41" r="0.55" fill="#cf7a50"/>
<circle cx="124.32" cy="442.45" r="0.55" fill="#cf7a50"/>
<text transform="translate(122.80,390.40) rotate(-45)" font-size="8.7" font-weight="bold" style="stroke-width:0.05px">400 µl</text>
<linearGradient id="g18" x1="0" y1="393.5" x2="0" y2="450.4" gradientUnits="userSpaceOnUse"><stop offset="0" stop-color="#caccc8"/><stop offset="0.794" stop-color="#cccecb"/><stop offset="0.865" stop-color="#eaeaea"/><stop offset="1" stop-color="#f8f8f8"/></linearGradient>
<path d="M133.58 393.5H148.58V441.2L143.98 449.5Q143.48 450.4 142.48 450.4H139.68Q138.68 450.4 138.18 449.5L133.58 441.2Z" fill="url(#g18)" stroke="#3a3e44" stroke-width="0.5"/>
<line x1="134.58" y1="394.1" x2="134.58" y2="440.20" stroke="#d6d8d6" stroke-width="0.8"/>
<path d="M133.78 430.40Q135.58 431.50 138.58 431.50H143.58Q146.58 431.50 148.38 430.40" stroke="#d89a80" stroke-width="1.0" fill="none"/>
<circle cx="143.09" cy="447.74" r="0.55" fill="#cf7a50"/>
<circle cx="140.76" cy="437.15" r="0.55" fill="#cf7a50"/>
<circle cx="140.28" cy="434.96" r="0.55" fill="#cf7a50"/>
<circle cx="143.95" cy="445.56" r="0.55" fill="#cf7a50"/>
<circle cx="138.89" cy="440.34" r="0.55" fill="#cf7a50"/>
<circle cx="142.49" cy="435.95" r="0.55" fill="#cf7a50"/>
<circle cx="139.12" cy="447.25" r="0.55" fill="#cf7a50"/>
<circle cx="137.36" cy="445.00" r="0.55" fill="#cf7a50"/>
<circle cx="137.81" cy="435.99" r="0.55" fill="#cf7a50"/>
<circle cx="139.41" cy="443.58" r="0.55" fill="#cf7a50"/>
<circle cx="142.52" cy="438.47" r="0.55" fill="#cf7a50"/>
<circle cx="143.85" cy="434.62" r="0.55" fill="#cf7a50"/>
<circle cx="141.21" cy="434.89" r="0.55" fill="#cf7a50"/>
<circle cx="137.45" cy="436.86" r="0.55" fill="#cf7a50"/>
<circle cx="140.32" cy="441.17" r="0.55" fill="#cf7a50"/>
<circle cx="140.04" cy="438.79" r="0.55" fill="#cf7a50"/>
<text transform="translate(137.70,390.40) rotate(-45)" font-size="8.7" font-weight="bold" style="stroke-width:0.05px">500 µl</text>
<linearGradient id="g19" x1="0" y1="393.5" x2="0" y2="450.4" gradientUnits="userSpaceOnUse"><stop offset="0" stop-color="#caccc8"/><stop offset="0.794" stop-color="#cccecb"/><stop offset="0.865" stop-color="#eaeaea"/><stop offset="1" stop-color="#f8f8f8"/></linearGradient>
<path d="M149.42 393.5H164.42V441.2L159.82 449.5Q159.32 450.4 158.32 450.4H155.52Q154.52 450.4 154.02 449.5L149.42 441.2Z" fill="url(#g19)" stroke="#3a3e44" stroke-width="0.5"/>
<line x1="150.42" y1="394.1" x2="150.42" y2="440.20" stroke="#d6d8d6" stroke-width="0.8"/>
<path d="M149.62 427.40Q151.42 428.50 154.42 428.50H159.42Q162.42 428.50 164.22 427.40" stroke="#d89a80" stroke-width="1.0" fill="none"/>
<circle cx="152.84" cy="439.74" r="0.55" fill="#cf7a50"/>
<circle cx="158.50" cy="433.76" r="0.55" fill="#cf7a50"/>
<circle cx="157.26" cy="441.75" r="0.55" fill="#cf7a50"/>
<circle cx="157.71" cy="445.66" r="0.55" fill="#cf7a50"/>
<circle cx="155.06" cy="445.76" r="0.55" fill="#cf7a50"/>
<circle cx="159.81" cy="443.63" r="0.55" fill="#cf7a50"/>
<circle cx="155.81" cy="446.61" r="0.55" fill="#cf7a50"/>
<circle cx="161.99" cy="435.80" r="0.55" fill="#cf7a50"/>
<circle cx="162.90" cy="434.01" r="0.55" fill="#cf7a50"/>
<circle cx="154.61" cy="446.33" r="0.55" fill="#cf7a50"/>
<text transform="translate(153.00,390.40) rotate(-45)" font-size="8.7" font-weight="bold" style="stroke-width:0.05px">600 µl</text>
<linearGradient id="g20" x1="0" y1="393.5" x2="0" y2="450.4" gradientUnits="userSpaceOnUse"><stop offset="0" stop-color="#caccc8"/><stop offset="0.794" stop-color="#cccecb"/><stop offset="0.865" stop-color="#eaeaea"/><stop offset="1" stop-color="#f8f8f8"/></linearGradient>
<path d="M165.26 393.5H180.26V441.2L175.66 449.5Q175.16 450.4 174.16 450.4H171.36Q170.36 450.4 169.86 449.5L165.26 441.2Z" fill="url(#g20)" stroke="#3a3e44" stroke-width="0.5"/>
<line x1="166.26" y1="394.1" x2="166.26" y2="440.20" stroke="#d6d8d6" stroke-width="0.8"/>
<path d="M169.87 447.90H175.65L174.86 449.79999999999995Q174.56 450.2 173.96 450.2H171.56Q170.96 450.2 170.66 449.79999999999995Z" fill="#d2641e"/>
<path d="M165.46 425.70Q167.26 426.80 170.26 426.80H175.26Q178.26 426.80 180.06 425.70" stroke="#d89a80" stroke-width="1.0" fill="none"/>
<circle cx="175.48" cy="432.75" r="0.55" fill="#cf7a50"/>
<circle cx="167.92" cy="433.13" r="0.55" fill="#cf7a50"/>
<circle cx="172.04" cy="443.78" r="0.55" fill="#cf7a50"/>
<circle cx="169.02" cy="442.99" r="0.55" fill="#cf7a50"/>
<circle cx="174.98" cy="435.79" r="0.55" fill="#cf7a50"/>
<circle cx="169.17" cy="428.63" r="0.55" fill="#cf7a50"/>
<circle cx="177.70" cy="440.99" r="0.55" fill="#cf7a50"/>
<circle cx="170.32" cy="446.31" r="0.55" fill="#cf7a50"/>
<circle cx="175.86" cy="437.71" r="0.55" fill="#cf7a50"/>
<circle cx="174.99" cy="437.65" r="0.55" fill="#cf7a50"/>
<text transform="translate(168.30,390.40) rotate(-45)" font-size="8.7" font-weight="bold" style="stroke-width:0.05px">700 µl</text>
<linearGradient id="g21" x1="0" y1="393.5" x2="0" y2="450.4" gradientUnits="userSpaceOnUse"><stop offset="0" stop-color="#caccc8"/><stop offset="0.794" stop-color="#cccecb"/><stop offset="0.865" stop-color="#eaeaea"/><stop offset="1" stop-color="#f8f8f8"/></linearGradient>
<path d="M181.10 393.5H196.10V441.2L191.50 449.5Q191.00 450.4 190.00 450.4H187.20Q186.20 450.4 185.70 449.5L181.10 441.2Z" fill="url(#g21)" stroke="#3a3e44" stroke-width="0.5"/>
<line x1="182.10" y1="394.1" x2="182.10" y2="440.20" stroke="#d6d8d6" stroke-width="0.8"/>
<path d="M185.71 447.90H191.49L190.70 449.79999999999995Q190.40 450.2 189.80 450.2H187.40Q186.80 450.2 186.50 449.79999999999995Z" fill="#d2641e"/>
<path d="M181.30 423.00Q183.10 424.10 186.10 424.10H191.10Q194.10 424.10 195.90 423.00" stroke="#d89a80" stroke-width="1.0" fill="none"/>
<circle cx="183.45" cy="429.63" r="0.55" fill="#cf7a50"/>
<circle cx="183.05" cy="427.86" r="0.55" fill="#cf7a50"/>
<circle cx="188.78" cy="437.35" r="0.55" fill="#cf7a50"/>
<circle cx="184.36" cy="437.71" r="0.55" fill="#cf7a50"/>
<circle cx="185.05" cy="429.53" r="0.55" fill="#cf7a50"/>
<circle cx="193.24" cy="443.50" r="0.55" fill="#cf7a50"/>
<circle cx="185.60" cy="445.34" r="0.55" fill="#cf7a50"/>
<circle cx="194.02" cy="426.92" r="0.55" fill="#cf7a50"/>
<circle cx="191.78" cy="435.44" r="0.55" fill="#cf7a50"/>
<circle cx="188.20" cy="432.56" r="0.55" fill="#cf7a50"/>
<text transform="translate(184.80,390.40) rotate(-45)" font-size="8.7" font-weight="bold" style="stroke-width:0.05px">800 µl</text>
<linearGradient id="g22" x1="0" y1="393.5" x2="0" y2="450.4" gradientUnits="userSpaceOnUse"><stop offset="0" stop-color="#caccc8"/><stop offset="0.794" stop-color="#cccecb"/><stop offset="0.865" stop-color="#eaeaea"/><stop offset="1" stop-color="#f8f8f8"/></linearGradient>
<path d="M196.94 393.5H211.94V441.2L207.34 449.5Q206.84 450.4 205.84 450.4H203.04Q202.04 450.4 201.54 449.5L196.94 441.2Z" fill="url(#g22)" stroke="#3a3e44" stroke-width="0.5"/>
<line x1="197.94" y1="394.1" x2="197.94" y2="440.20" stroke="#d6d8d6" stroke-width="0.8"/>
<path d="M201.55 447.90H207.33L206.54 449.79999999999995Q206.24 450.2 205.64 450.2H203.24Q202.64 450.2 202.34 449.79999999999995Z" fill="#d2641e"/>
<path d="M197.14 420.70Q198.94 421.80 201.94 421.80H206.94Q209.94 421.80 211.74 420.70" stroke="#d89a80" stroke-width="1.0" fill="none"/>
<circle cx="203.60" cy="435.46" r="0.55" fill="#cf7a50"/>
<circle cx="198.60" cy="437.48" r="0.55" fill="#cf7a50"/>
<circle cx="208.57" cy="439.84" r="0.55" fill="#cf7a50"/>
<circle cx="203.89" cy="427.58" r="0.55" fill="#cf7a50"/>
<circle cx="203.30" cy="440.75" r="0.55" fill="#cf7a50"/>
<circle cx="200.42" cy="427.90" r="0.55" fill="#cf7a50"/>
<circle cx="198.63" cy="435.40" r="0.55" fill="#cf7a50"/>
<circle cx="207.00" cy="444.38" r="0.55" fill="#cf7a50"/>
<circle cx="208.77" cy="439.93" r="0.55" fill="#cf7a50"/>
<circle cx="203.29" cy="438.15" r="0.55" fill="#cf7a50"/>
<text transform="translate(201.30,390.40) rotate(-45)" font-size="8.7" font-weight="bold" style="stroke-width:0.05px">900 µl</text>
<linearGradient id="g23" x1="0" y1="393.5" x2="0" y2="450.4" gradientUnits="userSpaceOnUse"><stop offset="0" stop-color="#caccc8"/><stop offset="0.794" stop-color="#cccecb"/><stop offset="0.865" stop-color="#eaeaea"/><stop offset="1" stop-color="#f8f8f8"/></linearGradient>
<path d="M212.78 393.5H227.78V441.2L223.18 449.5Q222.68 450.4 221.68 450.4H218.88Q217.88 450.4 217.38 449.5L212.78 441.2Z" fill="url(#g23)" stroke="#3a3e44" stroke-width="0.5"/>
<line x1="213.78" y1="394.1" x2="213.78" y2="440.20" stroke="#d6d8d6" stroke-width="0.8"/>
<path d="M217.39 447.90H223.17L222.38 449.79999999999995Q222.08 450.2 221.48 450.2H219.08Q218.48 450.2 218.18 449.79999999999995Z" fill="#d2641e"/>
<path d="M212.98 418.60Q214.78 419.70 217.78 419.70H222.78Q225.78 419.70 227.58 418.60" stroke="#d89a80" stroke-width="1.0" fill="none"/>
<circle cx="220.33" cy="436.61" r="0.55" fill="#cf7a50"/>
<circle cx="222.16" cy="446.45" r="0.55" fill="#cf7a50"/>
<circle cx="225.22" cy="427.84" r="0.55" fill="#cf7a50"/>
<circle cx="223.62" cy="440.33" r="0.55" fill="#cf7a50"/>
<circle cx="219.25" cy="442.14" r="0.55" fill="#cf7a50"/>
<circle cx="223.56" cy="444.24" r="0.55" fill="#cf7a50"/>
<circle cx="223.49" cy="439.06" r="0.55" fill="#cf7a50"/>
<circle cx="219.15" cy="440.87" r="0.55" fill="#cf7a50"/>
<circle cx="215.13" cy="439.77" r="0.55" fill="#cf7a50"/>
<circle cx="219.91" cy="429.98" r="0.55" fill="#cf7a50"/>
<text transform="translate(215.40,390.40) rotate(-45)" font-size="8.7" font-weight="bold" style="stroke-width:0.05px">1000 µl</text>
<rect x="445" y="173.5" width="148.29999999999995" height="70.80000000000001" fill="#232830"/>
<text x="523.4" y="254.7" font-size="12.2" font-weight="bold" text-anchor="middle">25 mm (300 rpm)</text>
<linearGradient id="g24" x1="0" y1="180.5" x2="0" y2="237.5" gradientUnits="userSpaceOnUse"><stop offset="0" stop-color="#caccc8"/><stop offset="0.861" stop-color="#cccecb"/><stop offset="0.932" stop-color="#eaeaea"/><stop offset="1" stop-color="#f8f8f8"/></linearGradient>
<path d="M454.20 180.5H469.50V232.10A7.65 5.40 0 0 1 454.20 232.10Z" fill="url(#g24)" stroke="#3a3e44" stroke-width="0.5"/>
<line x1="455.20" y1="181.1" x2="455.20" y2="231.10" stroke="#d6d8d6" stroke-width="0.8"/>
<path d="M455.14 234.00H468.56A7.25 5.00 0 0 1 455.14 234.00Z" fill="#d2641e"/>
<path d="M454.40 222.40Q456.20 223.50 459.20 223.50H464.50Q467.50 223.50 469.30 222.40" stroke="#d89a80" stroke-width="1.0" fill="none"/>
<circle cx="460.07" cy="225.08" r="0.55" fill="#cf7a50"/>
<circle cx="463.38" cy="230.11" r="0.55" fill="#cf7a50"/>
<circle cx="467.32" cy="226.86" r="0.55" fill="#cf7a50"/>
<circle cx="459.86" cy="230.33" r="0.55" fill="#cf7a50"/>
<text transform="translate(466.30,174.70) rotate(-45)" font-size="8.7" font-weight="bold" style="stroke-width:0.05px">300 µl</text>
<linearGradient id="g25" x1="0" y1="180.5" x2="0" y2="237.5" gradientUnits="userSpaceOnUse"><stop offset="0" stop-color="#caccc8"/><stop offset="0.861" stop-color="#cccecb"/><stop offset="0.932" stop-color="#eaeaea"/><stop offset="1" stop-color="#f8f8f8"/></linearGradient>
<path d="M470.63 180.5H485.93V232.10A7.65 5.40 0 0 1 470.63 232.10Z" fill="url(#g25)" stroke="#3a3e44" stroke-width="0.5"/>
<line x1="471.63" y1="181.1" x2="471.63" y2="231.10" stroke="#d6d8d6" stroke-width="0.8"/>
<path d="M471.57 234.00H484.99A7.25 5.00 0 0 1 471.57 234.00Z" fill="#d2641e"/>
<path d="M470.83 220.90Q472.63 222.00 475.63 222.00H480.93Q483.93 222.00 485.73 220.90" stroke="#d89a80" stroke-width="1.0" fill="none"/>
<circle cx="479.14" cy="229.77" r="0.55" fill="#cf7a50"/>
<circle cx="476.92" cy="228.56" r="0.55" fill="#cf7a50"/>
<circle cx="480.03" cy="233.00" r="0.55" fill="#cf7a50"/>
<circle cx="481.50" cy="230.16" r="0.55" fill="#cf7a50"/>
<circle cx="472.41" cy="232.81" r="0.55" fill="#cf7a50"/>
<text transform="translate(482.00,174.70) rotate(-45)" font-size="8.7" font-weight="bold" style="stroke-width:0.05px">400 µl</text>
<linearGradient id="g26" x1="0" y1="180.5" x2="0" y2="237.5" gradientUnits="userSpaceOnUse"><stop offset="0" stop-color="#caccc8"/><stop offset="0.861" stop-color="#cccecb"/><stop offset="0.932" stop-color="#eaeaea"/><stop offset="1" stop-color="#f8f8f8"/></linearGradient>
<path d="M487.06 180.5H502.36V232.10A7.65 5.40 0 0 1 487.06 232.10Z" fill="url(#g26)" stroke="#3a3e44" stroke-width="0.5"/>
<line x1="488.06" y1="181.1" x2="488.06" y2="231.10" stroke="#d6d8d6" stroke-width="0.8"/>
<path d="M488.00 234.00H501.42A7.25 5.00 0 0 1 488.00 234.00Z" fill="#d2641e"/>
<path d="M487.26 218.60Q489.06 219.70 492.06 219.70H497.36Q500.36 219.70 502.16 218.60" stroke="#d89a80" stroke-width="1.0" fill="none"/>
<circle cx="497.65" cy="228.46" r="0.55" fill="#cf7a50"/>
<circle cx="493.50" cy="224.23" r="0.55" fill="#cf7a50"/>
<circle cx="490.96" cy="221.80" r="0.55" fill="#cf7a50"/>
<circle cx="489.77" cy="225.63" r="0.55" fill="#cf7a50"/>
<circle cx="499.70" cy="224.16" r="0.55" fill="#cf7a50"/>
<circle cx="494.81" cy="227.69" r="0.55" fill="#cf7a50"/>
<text transform="translate(497.10,174.70) rotate(-45)" font-size="8.7" font-weight="bold" style="stroke-width:0.05px">500 µl</text>
<linearGradient id="g27" x1="0" y1="180.5" x2="0" y2="237.5" gradientUnits="userSpaceOnUse"><stop offset="0" stop-color="#caccc8"/><stop offset="0.861" stop-color="#cccecb"/><stop offset="0.932" stop-color="#eaeaea"/><stop offset="1" stop-color="#f8f8f8"/></linearGradient>
<path d="M503.49 180.5H518.79V232.10A7.65 5.40 0 0 1 503.49 232.10Z" fill="url(#g27)" stroke="#3a3e44" stroke-width="0.5"/>
<line x1="504.49" y1="181.1" x2="504.49" y2="231.10" stroke="#d6d8d6" stroke-width="0.8"/>
<path d="M504.43 234.00H517.85A7.25 5.00 0 0 1 504.43 234.00Z" fill="#d2641e"/>
<path d="M503.69 215.70Q505.49 216.80 508.49 216.80H513.79Q516.79 216.80 518.59 215.70" stroke="#d89a80" stroke-width="1.0" fill="none"/>
<circle cx="511.98" cy="232.52" r="0.55" fill="#cf7a50"/>
<circle cx="512.84" cy="232.93" r="0.55" fill="#cf7a50"/>
<circle cx="505.93" cy="230.20" r="0.55" fill="#cf7a50"/>
<circle cx="514.33" cy="227.08" r="0.55" fill="#cf7a50"/>
<circle cx="516.43" cy="218.96" r="0.55" fill="#cf7a50"/>
<circle cx="510.79" cy="220.65" r="0.55" fill="#cf7a50"/>
<circle cx="511.08" cy="220.79" r="0.55" fill="#cf7a50"/>
<text transform="translate(512.40,174.70) rotate(-45)" font-size="8.7" font-weight="bold" style="stroke-width:0.05px">600 µl</text>
<linearGradient id="g28" x1="0" y1="180.5" x2="0" y2="237.5" gradientUnits="userSpaceOnUse"><stop offset="0" stop-color="#caccc8"/><stop offset="0.861" stop-color="#cccecb"/><stop offset="0.932" stop-color="#eaeaea"/><stop offset="1" stop-color="#f8f8f8"/></linearGradient>
<path d="M519.92 180.5H535.22V232.10A7.65 5.40 0 0 1 519.92 232.10Z" fill="url(#g28)" stroke="#3a3e44" stroke-width="0.5"/>
<line x1="520.92" y1="181.1" x2="520.92" y2="231.10" stroke="#d6d8d6" stroke-width="0.8"/>
<path d="M520.86 234.00H534.28A7.25 5.00 0 0 1 520.86 234.00Z" fill="#d2641e"/>
<path d="M520.12 213.00Q521.92 214.10 524.92 214.10H530.22Q533.22 214.10 535.02 213.00" stroke="#d89a80" stroke-width="1.0" fill="none"/>
<circle cx="522.14" cy="226.23" r="0.55" fill="#cf7a50"/>
<circle cx="526.59" cy="232.05" r="0.55" fill="#cf7a50"/>
<circle cx="528.77" cy="224.77" r="0.55" fill="#cf7a50"/>
<circle cx="524.93" cy="221.96" r="0.55" fill="#cf7a50"/>
<circle cx="528.32" cy="227.00" r="0.55" fill="#cf7a50"/>
<circle cx="530.23" cy="220.53" r="0.55" fill="#cf7a50"/>
<circle cx="521.59" cy="220.75" r="0.55" fill="#cf7a50"/>
<circle cx="521.95" cy="219.86" r="0.55" fill="#cf7a50"/>
<text transform="translate(528.30,174.70) rotate(-45)" font-size="8.7" font-weight="bold" style="stroke-width:0.05px">700 µl</text>
<linearGradient id="g29" x1="0" y1="180.5" x2="0" y2="237.5" gradientUnits="userSpaceOnUse"><stop offset="0" stop-color="#caccc8"/><stop offset="0.861" stop-color="#cccecb"/><stop offset="0.932" stop-color="#eaeaea"/><stop offset="1" stop-color="#f8f8f8"/></linearGradient>
<path d="M536.35 180.5H551.65V232.10A7.65 5.40 0 0 1 536.35 232.10Z" fill="url(#g29)" stroke="#3a3e44" stroke-width="0.5"/>
<line x1="537.35" y1="181.1" x2="537.35" y2="231.10" stroke="#d6d8d6" stroke-width="0.8"/>
<path d="M537.29 234.00H550.71A7.25 5.00 0 0 1 537.29 234.00Z" fill="#d2641e"/>
<path d="M536.55 210.70Q538.35 211.80 541.35 211.80H546.65Q549.65 211.80 551.45 210.70" stroke="#d89a80" stroke-width="1.0" fill="none"/>
<circle cx="547.13" cy="216.38" r="0.55" fill="#cf7a50"/>
<circle cx="548.89" cy="220.98" r="0.55" fill="#cf7a50"/>
<circle cx="538.47" cy="228.04" r="0.55" fill="#cf7a50"/>
<circle cx="549.47" cy="232.78" r="0.55" fill="#cf7a50"/>
<circle cx="548.99" cy="214.75" r="0.55" fill="#cf7a50"/>
<circle cx="543.72" cy="221.76" r="0.55" fill="#cf7a50"/>
<circle cx="540.85" cy="232.47" r="0.55" fill="#cf7a50"/>
<circle cx="549.38" cy="223.61" r="0.55" fill="#cf7a50"/>
<circle cx="543.61" cy="227.54" r="0.55" fill="#cf7a50"/>
<text transform="translate(544.80,174.70) rotate(-45)" font-size="8.7" font-weight="bold" style="stroke-width:0.05px">800 µl</text>
<linearGradient id="g30" x1="0" y1="180.5" x2="0" y2="237.5" gradientUnits="userSpaceOnUse"><stop offset="0" stop-color="#caccc8"/><stop offset="0.861" stop-color="#cccecb"/><stop offset="0.932" stop-color="#eaeaea"/><stop offset="1" stop-color="#f8f8f8"/></linearGradient>
<path d="M552.78 180.5H568.08V232.10A7.65 5.40 0 0 1 552.78 232.10Z" fill="url(#g30)" stroke="#3a3e44" stroke-width="0.5"/>
<line x1="553.78" y1="181.1" x2="553.78" y2="231.10" stroke="#d6d8d6" stroke-width="0.8"/>
<path d="M553.72 234.00H567.14A7.25 5.00 0 0 1 553.72 234.00Z" fill="#d2641e"/>
<path d="M552.98 207.80Q554.78 208.90 557.78 208.90H563.08Q566.08 208.90 567.88 207.80" stroke="#d89a80" stroke-width="1.0" fill="none"/>
<circle cx="564.33" cy="232.52" r="0.55" fill="#cf7a50"/>
<circle cx="555.70" cy="224.04" r="0.55" fill="#cf7a50"/>
<circle cx="559.88" cy="224.51" r="0.55" fill="#cf7a50"/>
<circle cx="554.92" cy="215.00" r="0.55" fill="#cf7a50"/>
<circle cx="555.81" cy="222.34" r="0.55" fill="#cf7a50"/>
<circle cx="562.50" cy="220.41" r="0.55" fill="#cf7a50"/>
<circle cx="557.50" cy="220.70" r="0.55" fill="#cf7a50"/>
<circle cx="559.44" cy="223.56" r="0.55" fill="#cf7a50"/>
<circle cx="560.81" cy="227.98" r="0.55" fill="#cf7a50"/>
<circle cx="566.00" cy="232.95" r="0.55" fill="#cf7a50"/>
<text transform="translate(561.70,174.70) rotate(-45)" font-size="8.7" font-weight="bold" style="stroke-width:0.05px">900 µl</text>
<linearGradient id="g31" x1="0" y1="180.5" x2="0" y2="237.5" gradientUnits="userSpaceOnUse"><stop offset="0" stop-color="#caccc8"/><stop offset="0.861" stop-color="#cccecb"/><stop offset="0.932" stop-color="#eaeaea"/><stop offset="1" stop-color="#f8f8f8"/></linearGradient>
<path d="M569.21 180.5H584.51V232.10A7.65 5.40 0 0 1 569.21 232.10Z" fill="url(#g31)" stroke="#3a3e44" stroke-width="0.5"/>
<line x1="570.21" y1="181.1" x2="570.21" y2="231.10" stroke="#d6d8d6" stroke-width="0.8"/>
<path d="M570.15 234.00H583.57A7.25 5.00 0 0 1 570.15 234.00Z" fill="#d2641e"/>
<path d="M569.41 204.80Q571.21 205.90 574.21 205.90H579.51Q582.51 205.90 584.31 204.80" stroke="#d89a80" stroke-width="1.0" fill="none"/>
<circle cx="573.64" cy="226.20" r="0.55" fill="#cf7a50"/>
<circle cx="581.69" cy="210.32" r="0.55" fill="#cf7a50"/>
<circle cx="578.40" cy="227.48" r="0.55" fill="#cf7a50"/>
<circle cx="574.05" cy="216.60" r="0.55" fill="#cf7a50"/>
<circle cx="577.66" cy="224.94" r="0.55" fill="#cf7a50"/>
<circle cx="578.50" cy="222.55" r="0.55" fill="#cf7a50"/>
<circle cx="573.04" cy="226.69" r="0.55" fill="#cf7a50"/>
<circle cx="582.76" cy="213.77" r="0.55" fill="#cf7a50"/>
<circle cx="581.52" cy="230.84" r="0.55" fill="#cf7a50"/>
<circle cx="571.46" cy="208.41" r="0.55" fill="#cf7a50"/>
<text transform="translate(574.80,174.70) rotate(-45)" font-size="8.7" font-weight="bold" style="stroke-width:0.05px">1000 µl</text>
<rect x="445.4" y="284.1" width="148.60000000000002" height="70.69999999999999" fill="#232830"/>
<text x="522.4" y="363.5" font-size="12.2" font-weight="bold" text-anchor="middle">50 mm (300 rpm)</text>
<linearGradient id="g32" x1="0" y1="290.2" x2="0" y2="350" gradientUnits="userSpaceOnUse"><stop offset="0" stop-color="#caccc8"/><stop offset="0.868" stop-color="#cccecb"/><stop offset="0.935" stop-color="#eaeaea"/><stop offset="1" stop-color="#f8f8f8"/></linearGradient>
<path d="M454.50 290.2H469.90V344.60A7.70 5.40 0 0 1 454.50 344.60Z" fill="url(#g32)" stroke="#3a3e44" stroke-width="0.5"/>
<line x1="455.50" y1="290.8" x2="455.50" y2="343.60" stroke="#d6d8d6" stroke-width="0.8"/>
<path d="M454.70 333.80Q456.50 334.90 459.50 334.90H464.90Q467.90 334.90 469.70 333.80" stroke="#d89a80" stroke-width="1.0" fill="none"/>
<circle cx="461.27" cy="339.54" r="0.55" fill="#cf7a50"/>
<circle cx="457.27" cy="343.63" r="0.55" fill="#cf7a50"/>
<circle cx="456.90" cy="342.68" r="0.55" fill="#cf7a50"/>
<circle cx="464.39" cy="337.40" r="0.55" fill="#cf7a50"/>
<circle cx="463.83" cy="342.79" r="0.55" fill="#cf7a50"/>
<circle cx="461.93" cy="340.73" r="0.55" fill="#cf7a50"/>
<circle cx="460.26" cy="338.84" r="0.55" fill="#cf7a50"/>
<circle cx="466.40" cy="345.04" r="0.55" fill="#cf7a50"/>
<circle cx="457.49" cy="337.26" r="0.55" fill="#cf7a50"/>
<circle cx="463.73" cy="345.79" r="0.55" fill="#cf7a50"/>
<circle cx="458.64" cy="345.32" r="0.55" fill="#cf7a50"/>
<circle cx="459.20" cy="341.32" r="0.55" fill="#cf7a50"/>
<circle cx="460.57" cy="345.79" r="0.55" fill="#cf7a50"/>
<circle cx="468.27" cy="343.98" r="0.55" fill="#cf7a50"/>
<circle cx="462.80" cy="340.17" r="0.55" fill="#cf7a50"/>
<circle cx="467.42" cy="345.05" r="0.55" fill="#cf7a50"/>
<circle cx="460.58" cy="341.36" r="0.55" fill="#cf7a50"/>
<circle cx="466.85" cy="337.53" r="0.55" fill="#cf7a50"/>
<circle cx="457.03" cy="337.31" r="0.55" fill="#cf7a50"/>
<circle cx="462.01" cy="342.94" r="0.55" fill="#cf7a50"/>
<text transform="translate(466.30,285.40) rotate(-45)" font-size="8.7" font-weight="bold" style="stroke-width:0.05px">300 µl</text>
<linearGradient id="g33" x1="0" y1="290.2" x2="0" y2="350" gradientUnits="userSpaceOnUse"><stop offset="0" stop-color="#caccc8"/><stop offset="0.868" stop-color="#cccecb"/><stop offset="0.935" stop-color="#eaeaea"/><stop offset="1" stop-color="#f8f8f8"/></linearGradient>
<path d="M470.91 290.2H486.31V344.60A7.70 5.40 0 0 1 470.91 344.60Z" fill="url(#g33)" stroke="#3a3e44" stroke-width="0.5"/>
<line x1="471.91" y1="290.8" x2="471.91" y2="343.60" stroke="#d6d8d6" stroke-width="0.8"/>
<path d="M471.11 332.60Q472.91 333.70 475.91 333.70H481.31Q484.31 333.70 486.11 332.60" stroke="#d89a80" stroke-width="1.0" fill="none"/>
<circle cx="476.12" cy="343.97" r="0.55" fill="#cf7a50"/>
<circle cx="473.35" cy="345.13" r="0.55" fill="#cf7a50"/>
<circle cx="480.62" cy="337.93" r="0.55" fill="#cf7a50"/>
<circle cx="476.18" cy="336.25" r="0.55" fill="#cf7a50"/>
<circle cx="481.02" cy="344.48" r="0.55" fill="#cf7a50"/>
<circle cx="474.18" cy="338.82" r="0.55" fill="#cf7a50"/>
<circle cx="481.41" cy="339.78" r="0.55" fill="#cf7a50"/>
<circle cx="473.87" cy="339.89" r="0.55" fill="#cf7a50"/>
<circle cx="479.47" cy="344.28" r="0.55" fill="#cf7a50"/>
<circle cx="484.07" cy="346.96" r="0.55" fill="#cf7a50"/>
<circle cx="477.84" cy="346.89" r="0.55" fill="#cf7a50"/>
<circle cx="476.19" cy="345.48" r="0.55" fill="#cf7a50"/>
<circle cx="477.36" cy="339.27" r="0.55" fill="#cf7a50"/>
<circle cx="483.50" cy="347.16" r="0.55" fill="#cf7a50"/>
<circle cx="476.90" cy="338.38" r="0.55" fill="#cf7a50"/>
<circle cx="476.92" cy="339.88" r="0.55" fill="#cf7a50"/>
<circle cx="477.22" cy="340.26" r="0.55" fill="#cf7a50"/>
<circle cx="479.40" cy="337.70" r="0.55" fill="#cf7a50"/>
<circle cx="479.11" cy="345.40" r="0.55" fill="#cf7a50"/>
<circle cx="479.39" cy="345.91" r="0.55" fill="#cf7a50"/>
<circle cx="481.82" cy="337.46" r="0.55" fill="#cf7a50"/>
<circle cx="475.90" cy="346.48" r="0.55" fill="#cf7a50"/>
<text transform="translate(482.00,285.40) rotate(-45)" font-size="8.7" font-weight="bold" style="stroke-width:0.05px">400 µl</text>
<linearGradient id="g34" x1="0" y1="290.2" x2="0" y2="350" gradientUnits="userSpaceOnUse"><stop offset="0" stop-color="#caccc8"/><stop offset="0.868" stop-color="#cccecb"/><stop offset="0.935" stop-color="#eaeaea"/><stop offset="1" stop-color="#f8f8f8"/></linearGradient>
<path d="M487.32 290.2H502.72V344.60A7.70 5.40 0 0 1 487.32 344.60Z" fill="url(#g34)" stroke="#3a3e44" stroke-width="0.5"/>
<line x1="488.32" y1="290.8" x2="488.32" y2="343.60" stroke="#d6d8d6" stroke-width="0.8"/>
<path d="M487.52 329.70Q489.32 330.80 492.32 330.80H497.72Q500.72 330.80 502.52 329.70" stroke="#d89a80" stroke-width="1.0" fill="none"/>
<circle cx="495.21" cy="332.65" r="0.55" fill="#cf7a50"/>
<circle cx="495.86" cy="340.84" r="0.55" fill="#cf7a50"/>
<circle cx="496.89" cy="347.47" r="0.55" fill="#cf7a50"/>
<circle cx="489.61" cy="344.93" r="0.55" fill="#cf7a50"/>
<circle cx="498.59" cy="340.89" r="0.55" fill="#cf7a50"/>
<circle cx="489.83" cy="333.62" r="0.55" fill="#cf7a50"/>
<circle cx="499.97" cy="343.87" r="0.55" fill="#cf7a50"/>
<circle cx="496.68" cy="333.63" r="0.55" fill="#cf7a50"/>
<circle cx="498.07" cy="334.56" r="0.55" fill="#cf7a50"/>
<circle cx="491.86" cy="342.49" r="0.55" fill="#cf7a50"/>
<circle cx="498.31" cy="335.76" r="0.55" fill="#cf7a50"/>
<circle cx="498.30" cy="340.49" r="0.55" fill="#cf7a50"/>
<circle cx="493.01" cy="338.49" r="0.55" fill="#cf7a50"/>
<circle cx="497.16" cy="347.50" r="0.55" fill="#cf7a50"/>
<circle cx="495.48" cy="340.05" r="0.55" fill="#cf7a50"/>
<circle cx="497.60" cy="343.62" r="0.55" fill="#cf7a50"/>
<circle cx="493.91" cy="346.67" r="0.55" fill="#cf7a50"/>
<circle cx="497.09" cy="345.27" r="0.55" fill="#cf7a50"/>
<circle cx="498.81" cy="345.70" r="0.55" fill="#cf7a50"/>
<circle cx="499.84" cy="345.39" r="0.55" fill="#cf7a50"/>
<circle cx="496.76" cy="347.34" r="0.55" fill="#cf7a50"/>
<circle cx="497.63" cy="340.52" r="0.55" fill="#cf7a50"/>
<circle cx="494.05" cy="344.90" r="0.55" fill="#cf7a50"/>
<circle cx="490.63" cy="338.90" r="0.55" fill="#cf7a50"/>
<circle cx="501.11" cy="343.94" r="0.55" fill="#cf7a50"/>
<circle cx="490.90" cy="338.20" r="0.55" fill="#cf7a50"/>
<text transform="translate(497.10,285.40) rotate(-45)" font-size="8.7" font-weight="bold" style="stroke-width:0.05px">500 µl</text>
<linearGradient id="g35" x1="0" y1="290.2" x2="0" y2="350" gradientUnits="userSpaceOnUse"><stop offset="0" stop-color="#caccc8"/><stop offset="0.868" stop-color="#cccecb"/><stop offset="0.935" stop-color="#eaeaea"/><stop offset="1" stop-color="#f8f8f8"/></linearGradient>
<path d="M503.73 290.2H519.13V344.60A7.70 5.40 0 0 1 503.73 344.60Z" fill="url(#g35)" stroke="#3a3e44" stroke-width="0.5"/>
<line x1="504.73" y1="290.8" x2="504.73" y2="343.60" stroke="#d6d8d6" stroke-width="0.8"/>
<path d="M503.93 326.50Q505.73 327.60 508.73 327.60H514.13Q517.13 327.60 518.93 326.50" stroke="#d89a80" stroke-width="1.0" fill="none"/>
<circle cx="510.50" cy="332.96" r="0.55" fill="#cf7a50"/>
<circle cx="517.26" cy="334.62" r="0.55" fill="#cf7a50"/>
<circle cx="509.05" cy="330.22" r="0.55" fill="#cf7a50"/>
<circle cx="513.26" cy="331.27" r="0.55" fill="#cf7a50"/>
<circle cx="507.45" cy="343.77" r="0.55" fill="#cf7a50"/>
<circle cx="510.92" cy="330.28" r="0.55" fill="#cf7a50"/>
<circle cx="516.51" cy="340.14" r="0.55" fill="#cf7a50"/>
<circle cx="506.58" cy="329.79" r="0.55" fill="#cf7a50"/>
<circle cx="507.93" cy="332.59" r="0.55" fill="#cf7a50"/>
<circle cx="514.12" cy="333.55" r="0.55" fill="#cf7a50"/>
<circle cx="508.01" cy="340.34" r="0.55" fill="#cf7a50"/>
<circle cx="508.72" cy="332.60" r="0.55" fill="#cf7a50"/>
<circle cx="514.62" cy="332.36" r="0.55" fill="#cf7a50"/>
<circle cx="512.03" cy="334.99" r="0.55" fill="#cf7a50"/>
<circle cx="511.18" cy="344.54" r="0.55" fill="#cf7a50"/>
<circle cx="516.23" cy="334.02" r="0.55" fill="#cf7a50"/>
<circle cx="509.47" cy="346.38" r="0.55" fill="#cf7a50"/>
<circle cx="517.10" cy="339.44" r="0.55" fill="#cf7a50"/>
<circle cx="507.97" cy="338.22" r="0.55" fill="#cf7a50"/>
<circle cx="516.98" cy="330.04" r="0.55" fill="#cf7a50"/>
<circle cx="510.00" cy="344.25" r="0.55" fill="#cf7a50"/>
<circle cx="511.63" cy="339.07" r="0.55" fill="#cf7a50"/>
<circle cx="517.51" cy="334.29" r="0.55" fill="#cf7a50"/>
<circle cx="508.18" cy="341.53" r="0.55" fill="#cf7a50"/>
<circle cx="511.09" cy="329.31" r="0.55" fill="#cf7a50"/>
<circle cx="515.11" cy="336.12" r="0.55" fill="#cf7a50"/>
<circle cx="512.75" cy="342.58" r="0.55" fill="#cf7a50"/>
<circle cx="507.18" cy="332.07" r="0.55" fill="#cf7a50"/>
<text transform="translate(512.40,285.40) rotate(-45)" font-size="8.7" font-weight="bold" style="stroke-width:0.05px">600 µl</text>
<linearGradient id="g36" x1="0" y1="290.2" x2="0" y2="350" gradientUnits="userSpaceOnUse"><stop offset="0" stop-color="#caccc8"/><stop offset="0.868" stop-color="#cccecb"/><stop offset="0.935" stop-color="#eaeaea"/><stop offset="1" stop-color="#f8f8f8"/></linearGradient>
<path d="M520.14 290.2H535.54V344.60A7.70 5.40 0 0 1 520.14 344.60Z" fill="url(#g36)" stroke="#3a3e44" stroke-width="0.5"/>
<line x1="521.14" y1="290.8" x2="521.14" y2="343.60" stroke="#d6d8d6" stroke-width="0.8"/>
<path d="M520.34 324.40Q522.14 325.50 525.14 325.50H530.54Q533.54 325.50 535.34 324.40" stroke="#d89a80" stroke-width="1.0" fill="none"/>
<circle cx="524.86" cy="333.76" r="0.55" fill="#cf7a50"/>
<circle cx="528.04" cy="345.25" r="0.55" fill="#cf7a50"/>
<circle cx="533.95" cy="340.38" r="0.55" fill="#cf7a50"/>
<circle cx="528.27" cy="332.60" r="0.55" fill="#cf7a50"/>
<circle cx="531.19" cy="330.16" r="0.55" fill="#cf7a50"/>
<circle cx="531.83" cy="327.03" r="0.55" fill="#cf7a50"/>
<circle cx="531.83" cy="344.77" r="0.55" fill="#cf7a50"/>
<circle cx="524.99" cy="328.73" r="0.55" fill="#cf7a50"/>
<circle cx="522.84" cy="342.05" r="0.55" fill="#cf7a50"/>
<circle cx="527.45" cy="337.08" r="0.55" fill="#cf7a50"/>
<circle cx="528.91" cy="347.07" r="0.55" fill="#cf7a50"/>
<circle cx="525.40" cy="345.00" r="0.55" fill="#cf7a50"/>
<circle cx="526.81" cy="343.58" r="0.55" fill="#cf7a50"/>
<circle cx="522.77" cy="346.25" r="0.55" fill="#cf7a50"/>
<circle cx="524.22" cy="344.35" r="0.55" fill="#cf7a50"/>
<circle cx="528.16" cy="338.41" r="0.55" fill="#cf7a50"/>
<circle cx="531.96" cy="330.31" r="0.55" fill="#cf7a50"/>
<circle cx="525.49" cy="333.54" r="0.55" fill="#cf7a50"/>
<circle cx="525.43" cy="328.60" r="0.55" fill="#cf7a50"/>
<circle cx="530.51" cy="336.81" r="0.55" fill="#cf7a50"/>
<circle cx="530.16" cy="334.55" r="0.55" fill="#cf7a50"/>
<circle cx="526.53" cy="329.22" r="0.55" fill="#cf7a50"/>
<circle cx="533.63" cy="336.70" r="0.55" fill="#cf7a50"/>
<circle cx="529.75" cy="344.42" r="0.55" fill="#cf7a50"/>
<circle cx="526.32" cy="327.26" r="0.55" fill="#cf7a50"/>
<circle cx="524.58" cy="341.91" r="0.55" fill="#cf7a50"/>
<text transform="translate(528.30,285.40) rotate(-45)" font-size="8.7" font-weight="bold" style="stroke-width:0.05px">700 µl</text>
<linearGradient id="g37" x1="0" y1="290.2" x2="0" y2="350" gradientUnits="userSpaceOnUse"><stop offset="0" stop-color="#caccc8"/><stop offset="0.868" stop-color="#cccecb"/><stop offset="0.935" stop-color="#eaeaea"/><stop offset="1" stop-color="#f8f8f8"/></linearGradient>
<path d="M536.55 290.2H551.95V344.60A7.70 5.40 0 0 1 536.55 344.60Z" fill="url(#g37)" stroke="#3a3e44" stroke-width="0.5"/>
<line x1="537.55" y1="290.8" x2="537.55" y2="343.60" stroke="#d6d8d6" stroke-width="0.8"/>
<path d="M537.00 345.20H551.50A7.30 5.00 0 0 1 537.00 345.20Z" fill="#b8622c"/>
<path d="M536.75 322.10Q538.55 323.20 541.55 323.20H546.95Q549.95 323.20 551.75 322.10" stroke="#d89a80" stroke-width="1.0" fill="none"/>
<circle cx="543.73" cy="335.70" r="0.55" fill="#cf7a50"/>
<circle cx="550.35" cy="324.90" r="0.55" fill="#cf7a50"/>
<circle cx="540.61" cy="340.29" r="0.55" fill="#cf7a50"/>
<circle cx="541.65" cy="336.71" r="0.55" fill="#cf7a50"/>
<circle cx="544.74" cy="332.03" r="0.55" fill="#cf7a50"/>
<circle cx="542.23" cy="330.52" r="0.55" fill="#cf7a50"/>
<circle cx="546.32" cy="332.35" r="0.55" fill="#cf7a50"/>
<circle cx="540.53" cy="329.70" r="0.55" fill="#cf7a50"/>
<circle cx="542.13" cy="338.96" r="0.55" fill="#cf7a50"/>
<circle cx="545.03" cy="343.13" r="0.55" fill="#cf7a50"/>
<text transform="translate(544.80,285.40) rotate(-45)" font-size="8.7" font-weight="bold" style="stroke-width:0.05px">800 µl</text>
<linearGradient id="g38" x1="0" y1="290.2" x2="0" y2="350" gradientUnits="userSpaceOnUse"><stop offset="0" stop-color="#caccc8"/><stop offset="0.868" stop-color="#cccecb"/><stop offset="0.935" stop-color="#eaeaea"/><stop offset="1" stop-color="#f8f8f8"/></linearGradient>
<path d="M552.96 290.2H568.36V344.60A7.70 5.40 0 0 1 552.96 344.60Z" fill="url(#g38)" stroke="#3a3e44" stroke-width="0.5"/>
<line x1="553.96" y1="290.8" x2="553.96" y2="343.60" stroke="#d6d8d6" stroke-width="0.8"/>
<path d="M553.41 345.20H567.91A7.30 5.00 0 0 1 553.41 345.20Z" fill="#b8622c"/>
<path d="M553.16 318.60Q554.96 319.70 557.96 319.70H563.36Q566.36 319.70 568.16 318.60" stroke="#d89a80" stroke-width="1.0" fill="none"/>
<circle cx="558.57" cy="337.85" r="0.55" fill="#cf7a50"/>
<circle cx="555.60" cy="340.22" r="0.55" fill="#cf7a50"/>
<circle cx="555.63" cy="324.44" r="0.55" fill="#cf7a50"/>
<circle cx="563.24" cy="336.79" r="0.55" fill="#cf7a50"/>
<circle cx="559.45" cy="325.34" r="0.55" fill="#cf7a50"/>
<circle cx="561.81" cy="340.45" r="0.55" fill="#cf7a50"/>
<circle cx="557.27" cy="323.27" r="0.55" fill="#cf7a50"/>
<circle cx="556.00" cy="324.81" r="0.55" fill="#cf7a50"/>
<circle cx="555.36" cy="330.56" r="0.55" fill="#cf7a50"/>
<circle cx="559.75" cy="342.37" r="0.55" fill="#cf7a50"/>
<text transform="translate(561.70,285.40) rotate(-45)" font-size="8.7" font-weight="bold" style="stroke-width:0.05px">900 µl</text>
<linearGradient id="g39" x1="0" y1="290.2" x2="0" y2="350" gradientUnits="userSpaceOnUse"><stop offset="0" stop-color="#caccc8"/><stop offset="0.868" stop-color="#cccecb"/><stop offset="0.935" stop-color="#eaeaea"/><stop offset="1" stop-color="#f8f8f8"/></linearGradient>
<path d="M569.37 290.2H584.77V344.60A7.70 5.40 0 0 1 569.37 344.60Z" fill="url(#g39)" stroke="#3a3e44" stroke-width="0.5"/>
<line x1="570.37" y1="290.8" x2="570.37" y2="343.60" stroke="#d6d8d6" stroke-width="0.8"/>
<path d="M569.82 345.20H584.32A7.30 5.00 0 0 1 569.82 345.20Z" fill="#b8622c"/>
<path d="M569.57 315.60Q571.37 316.70 574.37 316.70H579.77Q582.77 316.70 584.57 315.60" stroke="#d89a80" stroke-width="1.0" fill="none"/>
<circle cx="578.90" cy="331.50" r="0.55" fill="#cf7a50"/>
<circle cx="581.05" cy="338.14" r="0.55" fill="#cf7a50"/>
<circle cx="574.98" cy="328.23" r="0.55" fill="#cf7a50"/>
<circle cx="571.06" cy="328.92" r="0.55" fill="#cf7a50"/>
<circle cx="579.55" cy="328.62" r="0.55" fill="#cf7a50"/>
<circle cx="580.66" cy="343.73" r="0.55" fill="#cf7a50"/>
<circle cx="578.42" cy="335.37" r="0.55" fill="#cf7a50"/>
<circle cx="574.97" cy="318.68" r="0.55" fill="#cf7a50"/>
<circle cx="578.94" cy="327.10" r="0.55" fill="#cf7a50"/>
<circle cx="575.55" cy="320.96" r="0.55" fill="#cf7a50"/>
<text transform="translate(574.80,285.40) rotate(-45)" font-size="8.7" font-weight="bold" style="stroke-width:0.05px">1000 µl</text>
<rect x="445.1" y="389.1" width="148.10000000000002" height="71.0" fill="#232830"/>
<text x="522" y="470.2" font-size="12.2" font-weight="bold" text-anchor="middle">25 mm (400 rpm)</text>
<linearGradient id="g40" x1="0" y1="395" x2="0" y2="450.7" gradientUnits="userSpaceOnUse"><stop offset="0" stop-color="#caccc8"/><stop offset="0.858" stop-color="#cccecb"/><stop offset="0.930" stop-color="#eaeaea"/><stop offset="1" stop-color="#f8f8f8"/></linearGradient>
<path d="M456.90 395H471.90V445.30A7.50 5.40 0 0 1 456.90 445.30Z" fill="url(#g40)" stroke="#3a3e44" stroke-width="0.5"/>
<line x1="457.90" y1="395.6" x2="457.90" y2="444.30" stroke="#d6d8d6" stroke-width="0.8"/>
<path d="M457.10 436.10Q458.90 437.20 461.90 437.20H466.90Q469.90 437.20 471.70 436.10" stroke="#d89a80" stroke-width="1.0" fill="none"/>
<circle cx="467.86" cy="443.79" r="0.55" fill="#cf7a50"/>
<circle cx="465.74" cy="446.95" r="0.55" fill="#cf7a50"/>
<circle cx="467.60" cy="440.28" r="0.55" fill="#cf7a50"/>
<circle cx="464.98" cy="447.73" r="0.55" fill="#cf7a50"/>
<circle cx="464.40" cy="442.23" r="0.55" fill="#cf7a50"/>
<circle cx="466.96" cy="440.12" r="0.55" fill="#cf7a50"/>
<circle cx="464.59" cy="448.57" r="0.55" fill="#cf7a50"/>
<circle cx="468.43" cy="445.85" r="0.55" fill="#cf7a50"/>
<circle cx="469.74" cy="440.67" r="0.55" fill="#cf7a50"/>
<circle cx="460.77" cy="444.97" r="0.55" fill="#cf7a50"/>
<circle cx="461.34" cy="439.53" r="0.55" fill="#cf7a50"/>
<circle cx="466.77" cy="444.46" r="0.55" fill="#cf7a50"/>
<circle cx="469.55" cy="441.99" r="0.55" fill="#cf7a50"/>
<circle cx="463.96" cy="442.31" r="0.55" fill="#cf7a50"/>
<circle cx="470.08" cy="439.94" r="0.55" fill="#cf7a50"/>
<circle cx="469.25" cy="440.06" r="0.55" fill="#cf7a50"/>
<circle cx="465.13" cy="444.13" r="0.55" fill="#cf7a50"/>
<circle cx="461.57" cy="444.30" r="0.55" fill="#cf7a50"/>
<circle cx="470.31" cy="447.79" r="0.55" fill="#cf7a50"/>
<circle cx="465.62" cy="446.88" r="0.55" fill="#cf7a50"/>
<circle cx="468.30" cy="439.93" r="0.55" fill="#cf7a50"/>
<circle cx="469.16" cy="441.59" r="0.55" fill="#cf7a50"/>
<circle cx="465.28" cy="441.11" r="0.55" fill="#cf7a50"/>
<circle cx="460.63" cy="447.01" r="0.55" fill="#cf7a50"/>
<circle cx="459.32" cy="444.18" r="0.55" fill="#cf7a50"/>
<circle cx="460.56" cy="439.02" r="0.55" fill="#cf7a50"/>
<text transform="translate(466.30,390.40) rotate(-45)" font-size="8.7" font-weight="bold" style="stroke-width:0.05px">300 µl</text>
<linearGradient id="g41" x1="0" y1="395" x2="0" y2="450.7" gradientUnits="userSpaceOnUse"><stop offset="0" stop-color="#caccc8"/><stop offset="0.858" stop-color="#cccecb"/><stop offset="0.930" stop-color="#eaeaea"/><stop offset="1" stop-color="#f8f8f8"/></linearGradient>
<path d="M472.93 395H487.93V445.30A7.50 5.40 0 0 1 472.93 445.30Z" fill="url(#g41)" stroke="#3a3e44" stroke-width="0.5"/>
<line x1="473.93" y1="395.6" x2="473.93" y2="444.30" stroke="#d6d8d6" stroke-width="0.8"/>
<path d="M473.13 434.60Q474.93 435.70 477.93 435.70H482.93Q485.93 435.70 487.73 434.60" stroke="#d89a80" stroke-width="1.0" fill="none"/>
<circle cx="485.70" cy="448.55" r="0.55" fill="#cf7a50"/>
<circle cx="478.12" cy="444.77" r="0.55" fill="#cf7a50"/>
<circle cx="483.28" cy="444.92" r="0.55" fill="#cf7a50"/>
<circle cx="481.53" cy="441.59" r="0.55" fill="#cf7a50"/>
<circle cx="474.63" cy="446.44" r="0.55" fill="#cf7a50"/>
<circle cx="480.05" cy="439.49" r="0.55" fill="#cf7a50"/>
<circle cx="479.07" cy="438.84" r="0.55" fill="#cf7a50"/>
<circle cx="476.51" cy="443.75" r="0.55" fill="#cf7a50"/>
<circle cx="477.59" cy="443.18" r="0.55" fill="#cf7a50"/>
<circle cx="478.42" cy="443.73" r="0.55" fill="#cf7a50"/>
<circle cx="474.88" cy="444.58" r="0.55" fill="#cf7a50"/>
<circle cx="476.17" cy="444.92" r="0.55" fill="#cf7a50"/>
<circle cx="481.63" cy="448.23" r="0.55" fill="#cf7a50"/>
<circle cx="479.37" cy="442.60" r="0.55" fill="#cf7a50"/>
<circle cx="482.70" cy="444.37" r="0.55" fill="#cf7a50"/>
<circle cx="483.45" cy="445.92" r="0.55" fill="#cf7a50"/>
<circle cx="486.37" cy="442.79" r="0.55" fill="#cf7a50"/>
<circle cx="484.69" cy="446.84" r="0.55" fill="#cf7a50"/>
<circle cx="479.64" cy="441.90" r="0.55" fill="#cf7a50"/>
<circle cx="485.29" cy="443.71" r="0.55" fill="#cf7a50"/>
<circle cx="480.73" cy="443.25" r="0.55" fill="#cf7a50"/>
<circle cx="485.28" cy="442.17" r="0.55" fill="#cf7a50"/>
<circle cx="475.09" cy="440.89" r="0.55" fill="#cf7a50"/>
<circle cx="485.23" cy="445.54" r="0.55" fill="#cf7a50"/>
<circle cx="481.60" cy="445.62" r="0.55" fill="#cf7a50"/>
<circle cx="478.09" cy="445.85" r="0.55" fill="#cf7a50"/>
<text transform="translate(482.00,390.40) rotate(-45)" font-size="8.7" font-weight="bold" style="stroke-width:0.05px">400 µl</text>
<linearGradient id="g42" x1="0" y1="395" x2="0" y2="450.7" gradientUnits="userSpaceOnUse"><stop offset="0" stop-color="#caccc8"/><stop offset="0.858" stop-color="#cccecb"/><stop offset="0.930" stop-color="#eaeaea"/><stop offset="1" stop-color="#f8f8f8"/></linearGradient>
<path d="M488.96 395H503.96V445.30A7.50 5.40 0 0 1 488.96 445.30Z" fill="url(#g42)" stroke="#3a3e44" stroke-width="0.5"/>
<line x1="489.96" y1="395.6" x2="489.96" y2="444.30" stroke="#d6d8d6" stroke-width="0.8"/>
<path d="M489.16 432.40Q490.96 433.50 493.96 433.50H498.96Q501.96 433.50 503.76 432.40" stroke="#d89a80" stroke-width="1.0" fill="none"/>
<circle cx="491.30" cy="443.13" r="0.55" fill="#cf7a50"/>
<circle cx="495.82" cy="436.70" r="0.55" fill="#cf7a50"/>
<circle cx="495.22" cy="441.89" r="0.55" fill="#cf7a50"/>
<circle cx="498.80" cy="435.71" r="0.55" fill="#cf7a50"/>
<circle cx="493.33" cy="442.21" r="0.55" fill="#cf7a50"/>
<circle cx="495.21" cy="439.20" r="0.55" fill="#cf7a50"/>
<circle cx="491.28" cy="438.23" r="0.55" fill="#cf7a50"/>
<circle cx="502.06" cy="447.48" r="0.55" fill="#cf7a50"/>
<circle cx="500.86" cy="444.12" r="0.55" fill="#cf7a50"/>
<circle cx="500.12" cy="440.77" r="0.55" fill="#cf7a50"/>
<circle cx="499.42" cy="438.04" r="0.55" fill="#cf7a50"/>
<circle cx="501.30" cy="442.77" r="0.55" fill="#cf7a50"/>
<circle cx="499.97" cy="436.35" r="0.55" fill="#cf7a50"/>
<circle cx="496.91" cy="436.70" r="0.55" fill="#cf7a50"/>
<circle cx="490.47" cy="448.03" r="0.55" fill="#cf7a50"/>
<circle cx="494.05" cy="438.34" r="0.55" fill="#cf7a50"/>
<circle cx="491.21" cy="439.45" r="0.55" fill="#cf7a50"/>
<circle cx="500.25" cy="447.26" r="0.55" fill="#cf7a50"/>
<circle cx="494.74" cy="440.44" r="0.55" fill="#cf7a50"/>
<circle cx="491.01" cy="443.02" r="0.55" fill="#cf7a50"/>
<circle cx="501.24" cy="435.43" r="0.55" fill="#cf7a50"/>
<circle cx="496.44" cy="439.22" r="0.55" fill="#cf7a50"/>
<circle cx="502.19" cy="447.79" r="0.55" fill="#cf7a50"/>
<circle cx="492.94" cy="441.48" r="0.55" fill="#cf7a50"/>
<circle cx="501.53" cy="439.05" r="0.55" fill="#cf7a50"/>
<circle cx="492.81" cy="447.29" r="0.55" fill="#cf7a50"/>
<text transform="translate(497.10,390.40) rotate(-45)" font-size="8.7" font-weight="bold" style="stroke-width:0.05px">500 µl</text>
<linearGradient id="g43" x1="0" y1="395" x2="0" y2="450.7" gradientUnits="userSpaceOnUse"><stop offset="0" stop-color="#caccc8"/><stop offset="0.858" stop-color="#cccecb"/><stop offset="0.930" stop-color="#eaeaea"/><stop offset="1" stop-color="#f8f8f8"/></linearGradient>
<path d="M504.99 395H519.99V445.30A7.50 5.40 0 0 1 504.99 445.30Z" fill="url(#g43)" stroke="#3a3e44" stroke-width="0.5"/>
<line x1="505.99" y1="395.6" x2="505.99" y2="444.30" stroke="#d6d8d6" stroke-width="0.8"/>
<path d="M505.19 429.40Q506.99 430.50 509.99 430.50H514.99Q517.99 430.50 519.79 429.40" stroke="#d89a80" stroke-width="1.0" fill="none"/>
<circle cx="510.74" cy="445.99" r="0.55" fill="#cf7a50"/>
<circle cx="508.55" cy="439.89" r="0.55" fill="#cf7a50"/>
<circle cx="518.43" cy="446.69" r="0.55" fill="#cf7a50"/>
<circle cx="514.08" cy="435.37" r="0.55" fill="#cf7a50"/>
<circle cx="517.05" cy="435.20" r="0.55" fill="#cf7a50"/>
<circle cx="507.76" cy="432.84" r="0.55" fill="#cf7a50"/>
<circle cx="510.25" cy="444.12" r="0.55" fill="#cf7a50"/>
<circle cx="516.93" cy="447.04" r="0.55" fill="#cf7a50"/>
<circle cx="508.11" cy="443.91" r="0.55" fill="#cf7a50"/>
<circle cx="517.74" cy="443.62" r="0.55" fill="#cf7a50"/>
<circle cx="507.44" cy="439.43" r="0.55" fill="#cf7a50"/>
<circle cx="510.18" cy="435.73" r="0.55" fill="#cf7a50"/>
<circle cx="508.85" cy="443.87" r="0.55" fill="#cf7a50"/>
<circle cx="509.32" cy="435.02" r="0.55" fill="#cf7a50"/>
<circle cx="515.98" cy="443.10" r="0.55" fill="#cf7a50"/>
<circle cx="514.43" cy="438.22" r="0.55" fill="#cf7a50"/>
<circle cx="513.57" cy="446.77" r="0.55" fill="#cf7a50"/>
<circle cx="510.10" cy="435.82" r="0.55" fill="#cf7a50"/>
<circle cx="514.49" cy="447.48" r="0.55" fill="#cf7a50"/>
<circle cx="514.17" cy="436.62" r="0.55" fill="#cf7a50"/>
<circle cx="518.29" cy="433.50" r="0.55" fill="#cf7a50"/>
<circle cx="512.83" cy="439.35" r="0.55" fill="#cf7a50"/>
<circle cx="507.03" cy="440.86" r="0.55" fill="#cf7a50"/>
<circle cx="509.90" cy="442.01" r="0.55" fill="#cf7a50"/>
<circle cx="516.13" cy="436.19" r="0.55" fill="#cf7a50"/>
<circle cx="509.91" cy="433.46" r="0.55" fill="#cf7a50"/>
<circle cx="509.44" cy="444.62" r="0.55" fill="#cf7a50"/>
<circle cx="513.07" cy="436.66" r="0.55" fill="#cf7a50"/>
<text transform="translate(512.40,390.40) rotate(-45)" font-size="8.7" font-weight="bold" style="stroke-width:0.05px">600 µl</text>
<linearGradient id="g44" x1="0" y1="395" x2="0" y2="450.7" gradientUnits="userSpaceOnUse"><stop offset="0" stop-color="#caccc8"/><stop offset="0.858" stop-color="#cccecb"/><stop offset="0.930" stop-color="#eaeaea"/><stop offset="1" stop-color="#f8f8f8"/></linearGradient>
<path d="M521.02 395H536.02V445.30A7.50 5.40 0 0 1 521.02 445.30Z" fill="url(#g44)" stroke="#3a3e44" stroke-width="0.5"/>
<line x1="522.02" y1="395.6" x2="522.02" y2="444.30" stroke="#d6d8d6" stroke-width="0.8"/>
<path d="M521.22 427.10Q523.02 428.20 526.02 428.20H531.02Q534.02 428.20 535.82 427.10" stroke="#d89a80" stroke-width="1.0" fill="none"/>
<circle cx="533.28" cy="433.24" r="0.55" fill="#cf7a50"/>
<circle cx="522.92" cy="448.47" r="0.55" fill="#cf7a50"/>
<circle cx="531.53" cy="438.47" r="0.55" fill="#cf7a50"/>
<circle cx="533.67" cy="437.01" r="0.55" fill="#cf7a50"/>
<circle cx="524.68" cy="439.20" r="0.55" fill="#cf7a50"/>
<circle cx="530.26" cy="440.26" r="0.55" fill="#cf7a50"/>
<circle cx="530.42" cy="436.53" r="0.55" fill="#cf7a50"/>
<circle cx="528.72" cy="444.58" r="0.55" fill="#cf7a50"/>
<circle cx="532.66" cy="439.31" r="0.55" fill="#cf7a50"/>
<circle cx="528.77" cy="442.70" r="0.55" fill="#cf7a50"/>
<circle cx="524.61" cy="447.78" r="0.55" fill="#cf7a50"/>
<circle cx="524.50" cy="444.51" r="0.55" fill="#cf7a50"/>
<circle cx="525.34" cy="441.25" r="0.55" fill="#cf7a50"/>
<circle cx="531.80" cy="438.07" r="0.55" fill="#cf7a50"/>
<circle cx="532.01" cy="444.64" r="0.55" fill="#cf7a50"/>
<circle cx="528.39" cy="434.18" r="0.55" fill="#cf7a50"/>
<circle cx="529.48" cy="433.90" r="0.55" fill="#cf7a50"/>
<circle cx="522.94" cy="439.18" r="0.55" fill="#cf7a50"/>
<circle cx="531.10" cy="441.04" r="0.55" fill="#cf7a50"/>
<circle cx="532.99" cy="440.58" r="0.55" fill="#cf7a50"/>
<circle cx="524.34" cy="433.12" r="0.55" fill="#cf7a50"/>
<circle cx="528.47" cy="430.04" r="0.55" fill="#cf7a50"/>
<circle cx="527.82" cy="437.96" r="0.55" fill="#cf7a50"/>
<circle cx="532.10" cy="434.70" r="0.55" fill="#cf7a50"/>
<circle cx="533.41" cy="431.08" r="0.55" fill="#cf7a50"/>
<circle cx="529.04" cy="440.51" r="0.55" fill="#cf7a50"/>
<text transform="translate(528.30,390.40) rotate(-45)" font-size="8.7" font-weight="bold" style="stroke-width:0.05px">700 µl</text>
<linearGradient id="g45" x1="0" y1="395" x2="0" y2="450.7" gradientUnits="userSpaceOnUse"><stop offset="0" stop-color="#caccc8"/><stop offset="0.858" stop-color="#cccecb"/><stop offset="0.930" stop-color="#eaeaea"/><stop offset="1" stop-color="#f8f8f8"/></linearGradient>
<path d="M537.05 395H552.05V445.30A7.50 5.40 0 0 1 537.05 445.30Z" fill="url(#g45)" stroke="#3a3e44" stroke-width="0.5"/>
<line x1="538.05" y1="395.6" x2="538.05" y2="444.30" stroke="#d6d8d6" stroke-width="0.8"/>
<path d="M537.25 424.20Q539.05 425.30 542.05 425.30H547.05Q550.05 425.30 551.85 424.20" stroke="#d89a80" stroke-width="1.0" fill="none"/>
<circle cx="541.41" cy="444.14" r="0.55" fill="#cf7a50"/>
<circle cx="542.28" cy="430.00" r="0.55" fill="#cf7a50"/>
<circle cx="542.32" cy="427.73" r="0.55" fill="#cf7a50"/>
<circle cx="544.86" cy="440.40" r="0.55" fill="#cf7a50"/>
<circle cx="545.61" cy="432.60" r="0.55" fill="#cf7a50"/>
<circle cx="548.40" cy="428.74" r="0.55" fill="#cf7a50"/>
<circle cx="541.61" cy="430.56" r="0.55" fill="#cf7a50"/>
<circle cx="546.84" cy="430.30" r="0.55" fill="#cf7a50"/>
<circle cx="547.99" cy="445.00" r="0.55" fill="#cf7a50"/>
<circle cx="543.48" cy="428.14" r="0.55" fill="#cf7a50"/>
<circle cx="541.15" cy="434.78" r="0.55" fill="#cf7a50"/>
<circle cx="539.06" cy="448.05" r="0.55" fill="#cf7a50"/>
<circle cx="547.69" cy="437.52" r="0.55" fill="#cf7a50"/>
<circle cx="540.28" cy="448.40" r="0.55" fill="#cf7a50"/>
<circle cx="547.49" cy="436.77" r="0.55" fill="#cf7a50"/>
<circle cx="541.44" cy="427.66" r="0.55" fill="#cf7a50"/>
<circle cx="540.25" cy="446.29" r="0.55" fill="#cf7a50"/>
<circle cx="542.13" cy="435.40" r="0.55" fill="#cf7a50"/>
<text transform="translate(544.80,390.40) rotate(-45)" font-size="8.7" font-weight="bold" style="stroke-width:0.05px">800 µl</text>
<linearGradient id="g46" x1="0" y1="395" x2="0" y2="450.7" gradientUnits="userSpaceOnUse"><stop offset="0" stop-color="#caccc8"/><stop offset="0.858" stop-color="#cccecb"/><stop offset="0.930" stop-color="#eaeaea"/><stop offset="1" stop-color="#f8f8f8"/></linearGradient>
<path d="M553.08 395H568.08V445.30A7.50 5.40 0 0 1 553.08 445.30Z" fill="url(#g46)" stroke="#3a3e44" stroke-width="0.5"/>
<line x1="554.08" y1="395.6" x2="554.08" y2="444.30" stroke="#d6d8d6" stroke-width="0.8"/>
<path d="M553.76 446.70H567.40A7.10 5.00 0 0 1 553.76 446.70Z" fill="#bb632c"/>
<path d="M553.28 421.60Q555.08 422.70 558.08 422.70H563.08Q566.08 422.70 567.88 421.60" stroke="#d89a80" stroke-width="1.0" fill="none"/>
<circle cx="555.50" cy="433.33" r="0.55" fill="#cf7a50"/>
<circle cx="566.53" cy="424.94" r="0.55" fill="#cf7a50"/>
<circle cx="563.39" cy="440.61" r="0.55" fill="#cf7a50"/>
<circle cx="557.62" cy="429.14" r="0.55" fill="#cf7a50"/>
<circle cx="557.48" cy="436.07" r="0.55" fill="#cf7a50"/>
<circle cx="565.77" cy="434.12" r="0.55" fill="#cf7a50"/>
<circle cx="558.62" cy="432.03" r="0.55" fill="#cf7a50"/>
<circle cx="561.91" cy="445.30" r="0.55" fill="#cf7a50"/>
<circle cx="559.42" cy="425.05" r="0.55" fill="#cf7a50"/>
<circle cx="555.28" cy="438.17" r="0.55" fill="#cf7a50"/>
<circle cx="562.92" cy="431.58" r="0.55" fill="#cf7a50"/>
<circle cx="561.67" cy="442.79" r="0.55" fill="#cf7a50"/>
<circle cx="560.13" cy="443.26" r="0.55" fill="#cf7a50"/>
<circle cx="564.70" cy="432.65" r="0.55" fill="#cf7a50"/>
<text transform="translate(561.70,390.40) rotate(-45)" font-size="8.7" font-weight="bold" style="stroke-width:0.05px">900 µl</text>
<linearGradient id="g47" x1="0" y1="395" x2="0" y2="450.7" gradientUnits="userSpaceOnUse"><stop offset="0" stop-color="#caccc8"/><stop offset="0.858" stop-color="#cccecb"/><stop offset="0.930" stop-color="#eaeaea"/><stop offset="1" stop-color="#f8f8f8"/></linearGradient>
<path d="M569.11 395H584.11V445.30A7.50 5.40 0 0 1 569.11 445.30Z" fill="url(#g47)" stroke="#3a3e44" stroke-width="0.5"/>
<line x1="570.11" y1="395.6" x2="570.11" y2="444.30" stroke="#d6d8d6" stroke-width="0.8"/>
<path d="M569.79 446.70H583.43A7.10 5.00 0 0 1 569.79 446.70Z" fill="#bb632c"/>
<path d="M569.31 419.00Q571.11 420.10 574.11 420.10H579.11Q582.11 420.10 583.91 419.00" stroke="#d89a80" stroke-width="1.0" fill="none"/>
<circle cx="579.99" cy="430.79" r="0.55" fill="#cf7a50"/>
<circle cx="574.78" cy="426.79" r="0.55" fill="#cf7a50"/>
<circle cx="577.20" cy="426.02" r="0.55" fill="#cf7a50"/>
<circle cx="573.05" cy="425.55" r="0.55" fill="#cf7a50"/>
<circle cx="576.22" cy="426.77" r="0.55" fill="#cf7a50"/>
<circle cx="575.98" cy="429.04" r="0.55" fill="#cf7a50"/>
<circle cx="578.76" cy="445.54" r="0.55" fill="#cf7a50"/>
<circle cx="573.07" cy="442.39" r="0.55" fill="#cf7a50"/>
<circle cx="571.48" cy="430.83" r="0.55" fill="#cf7a50"/>
<circle cx="574.96" cy="438.26" r="0.55" fill="#cf7a50"/>
<circle cx="570.83" cy="428.22" r="0.55" fill="#cf7a50"/>
<circle cx="573.76" cy="425.99" r="0.55" fill="#cf7a50"/>
<circle cx="581.69" cy="431.07" r="0.55" fill="#cf7a50"/>
<circle cx="573.83" cy="438.84" r="0.55" fill="#cf7a50"/>
<text transform="translate(574.80,390.40) rotate(-45)" font-size="8.7" font-weight="bold" style="stroke-width:0.05px">1000 µl</text>
<text transform="translate(4.5,19.5) scale(1.0,1)" font-size="16.3" font-weight="bold">A</text>
<text transform="translate(61.0,186.9) scale(0.97,1)" font-size="16.3" font-weight="bold">B</text>
<text transform="translate(61.3,296.6) scale(0.97,1)" font-size="16.3" font-weight="bold">C</text>
<text transform="translate(65.5,401.9) scale(0.97,1)" font-size="16.3" font-weight="bold">D</text>
<text transform="translate(362.0,17.66) scale(0.92,1)" font-size="16.3" font-weight="bold">E</text>
<text transform="translate(418.1,185.8) scale(0.97,1)" font-size="16.3" font-weight="bold">F</text>
<text transform="translate(417.4,293.8) scale(0.97,1)" font-size="16.3" font-weight="bold">G</text>
<text transform="translate(417.8,402.7) scale(0.97,1)" font-size="16.3" font-weight="bold">H</text>
</svg></body></html>
